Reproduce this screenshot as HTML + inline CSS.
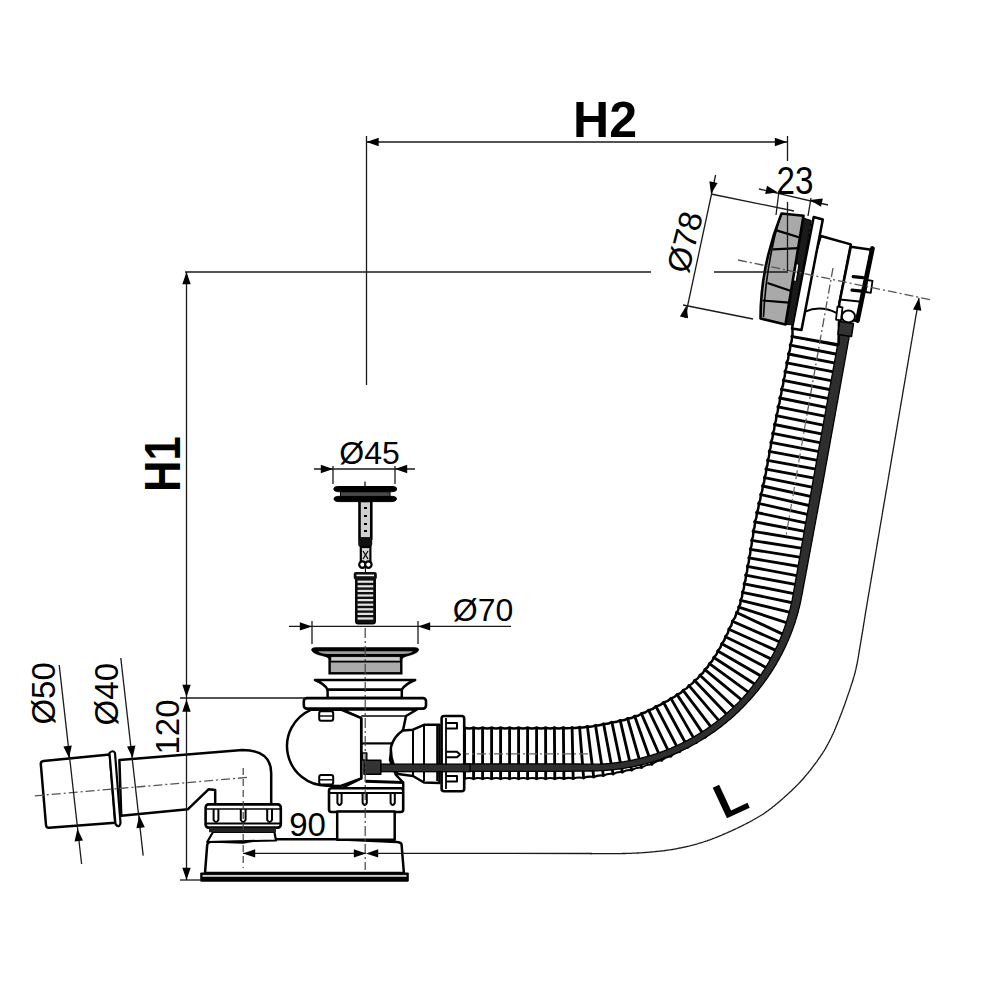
<!DOCTYPE html>
<html><head><meta charset="utf-8"><style>
html,body{margin:0;padding:0;background:#fff;}
svg{display:block;}
text{font-family:"Liberation Sans",sans-serif;}
</style></head><body>
<svg width="1000" height="1000" viewBox="0 0 1000 1000">
<rect width="1000" height="1000" fill="#fff"/>
<path d="M819.2,330.8 L819.1,331.3 L819.0,331.8 L818.9,332.3 L818.9,332.8 L818.8,333.3 L818.7,333.8 L818.6,334.3 L818.5,334.8 L818.4,335.2 L818.3,335.7 L818.2,336.2 L818.1,336.7 L818.0,337.2 L817.9,337.7 L817.8,338.2 L817.7,338.7 L817.6,339.2 L817.5,339.7 L817.4,340.2 L817.3,340.6 L817.2,341.1 L817.1,341.6 L817.0,342.1 L816.9,342.6 L816.8,343.1 L816.7,343.6 L816.7,344.1 L816.6,344.6 L816.5,345.1 L816.4,345.6 L816.3,346.0 L816.2,346.5 L816.1,347.0 L816.0,347.5 L815.9,348.0 L815.8,348.5 L815.7,349.0 L815.6,349.5 L815.5,350.0 L815.4,350.5 L815.3,350.9 L815.2,351.4 L815.1,351.9 L815.0,352.4 L814.9,352.9 L814.8,353.4 L814.7,353.9 L814.6,354.4 L814.5,354.9 L814.5,355.4 L814.4,355.9 L814.3,356.3 L814.2,356.8 L814.1,357.3 L814.0,357.8 L813.9,358.3 L813.8,358.8 L813.7,359.3 L813.6,359.8 L813.5,360.3 L813.4,360.8 L813.3,361.3 L813.2,361.7 L813.1,362.2 L813.0,362.7 L812.9,363.2 L812.8,363.7 L812.7,364.2 L812.6,364.7 L812.5,365.2 L812.4,365.7 L812.3,366.2 L812.3,366.7 L812.2,367.1 L812.1,367.6 L812.0,368.1 L811.9,368.6 L811.8,369.1 L811.7,369.6 L811.6,370.1 L811.5,370.6 L811.4,371.1 L811.3,371.6 L811.2,372.1 L811.1,372.5 L811.0,373.0 L810.9,373.5 L810.8,374.0 L810.7,374.5 L810.6,375.0 L810.5,375.5 L810.4,376.0 L810.3,376.5 L810.2,377.0 L810.1,377.5 L810.0,377.9 L810.0,378.4 L809.9,378.9 L809.8,379.4 L809.7,379.9 L809.6,380.4 L809.5,380.9 L809.4,381.4 L809.3,381.9 L809.2,382.4 L809.1,382.8 L809.0,383.3 L808.9,383.8 L808.8,384.3 L808.7,384.8 L808.6,385.3 L808.5,385.8 L808.4,386.3 L808.3,386.8 L808.2,387.3 L808.1,387.8 L808.0,388.2 L807.9,388.7 L807.8,389.2 L807.7,389.7 L807.6,390.2 L807.5,390.7 L807.5,391.2 L807.4,391.7 L807.3,392.2 L807.2,392.7 L807.1,393.2 L807.0,393.6 L806.9,394.1 L806.8,394.6 L806.7,395.1 L806.6,395.6 L806.5,396.1 L806.4,396.6 L806.3,397.1 L806.2,397.6 L806.1,398.1 L806.0,398.5 L805.9,399.0 L805.8,399.5 L805.7,400.0 L805.6,400.5 L805.5,401.0 L805.4,401.5 L805.3,402.0 L805.2,402.5 L805.1,403.0 L805.0,403.5 L804.9,403.9 L804.8,404.4 L804.7,404.9 L804.6,405.4 L804.5,405.9 L804.4,406.4 L804.3,406.9 L804.2,407.4 L804.1,407.9 L804.0,408.4 L803.9,408.8 L803.8,409.3 L803.7,409.8 L803.6,410.3 L803.5,410.8 L803.4,411.3 L803.3,411.8 L803.2,412.3 L803.2,412.8 L803.1,413.3 L803.0,413.7 L802.9,414.2 L802.8,414.7 L802.7,415.2 L802.6,415.7 L802.5,416.2 L802.4,416.7 L802.3,417.2 L802.2,417.7 L802.1,418.2 L802.0,418.6 L801.9,419.1 L801.8,419.6 L801.7,420.1 L801.6,420.6 L801.5,421.1 L801.4,421.6 L801.3,422.1 L801.2,422.6 L801.1,423.1 L801.0,423.5 L800.9,424.0 L800.8,424.5 L800.7,425.0 L800.6,425.5 L800.5,426.0 L800.4,426.5 L800.3,427.0 L800.2,427.5 L800.1,428.0 L800.0,428.4 L799.9,428.9 L799.8,429.4 L799.7,429.9 L799.6,430.4 L799.5,430.9 L799.4,431.4 L799.3,431.9 L799.2,432.4 L799.1,432.9 L799.0,433.4 L798.9,433.8 L798.8,434.3 L798.7,434.8 L798.6,435.3 L798.5,435.8 L798.4,436.3 L798.3,436.8 L798.2,437.3 L798.1,437.8 L798.0,438.3 L797.9,438.7 L797.8,439.2 L797.7,439.7 L797.6,440.2 L797.5,440.7 L797.4,441.2 L797.3,441.7 L797.3,442.2 L797.2,442.7 L797.1,443.2 L797.0,443.7 L796.9,444.1 L796.8,444.6 L796.7,445.1 L796.6,445.6 L796.5,446.1 L796.4,446.6 L796.3,447.1 L796.2,447.6 L796.1,448.1 L796.0,448.6 L795.9,449.1 L795.8,449.5 L795.7,450.0 L795.6,450.5 L795.6,451.0 L795.5,451.5 L795.4,452.0 L795.3,452.5 L795.2,453.0 L795.1,453.5 L795.0,454.0 L794.9,454.5 L794.8,454.9 L794.7,455.4 L794.6,455.9 L794.5,456.4 L794.5,456.9 L794.4,457.4 L794.3,457.9 L794.2,458.4 L794.1,458.9 L794.0,459.4 L793.9,459.9 L793.8,460.4 L793.7,460.9 L793.7,461.3 L793.6,461.8 L793.5,462.3 L793.4,462.8 L793.3,463.3 L793.2,463.8 L793.1,464.3 L793.0,464.8 L792.9,465.3 L792.8,465.8 L792.8,466.3 L792.7,466.8 L792.6,467.2 L792.5,467.7 L792.4,468.2 L792.3,468.7 L792.2,469.2 L792.1,469.7 L792.0,470.2 L791.9,470.7 L791.9,471.2 L791.8,471.7 L791.7,472.2 L791.6,472.7 L791.5,473.1 L791.4,473.6 L791.3,474.1 L791.2,474.6 L791.1,475.1 L791.0,475.6 L790.9,476.1 L790.8,476.6 L790.8,477.1 L790.7,477.6 L790.6,478.1 L790.5,478.6 L790.4,479.0 L790.3,479.5 L790.2,480.0 L790.1,480.5 L790.0,481.0 L789.9,481.5 L789.8,482.0 L789.7,482.5 L789.6,483.0 L789.5,483.5 L789.4,483.9 L789.3,484.4 L789.2,484.9 L789.1,485.4 L789.0,485.9 L788.9,486.4 L788.8,486.9 L788.7,487.4 L788.6,487.9 L788.5,488.4 L788.4,488.8 L788.3,489.3 L788.2,489.8 L788.1,490.3 L788.0,490.8 L787.9,491.3 L787.8,491.8 L787.7,492.3 L787.6,492.8 L787.5,493.2 L787.3,493.7 L787.2,494.2 L787.1,494.7 L787.0,495.2 L786.9,495.7 L786.8,496.2 L786.7,496.7 L786.6,497.2 L786.5,497.6 L786.4,498.1 L786.3,498.6 L786.2,499.1 L786.0,499.6 L785.9,500.1 L785.8,500.6 L785.7,501.1 L785.6,501.5 L785.5,502.0 L785.4,502.5 L785.3,503.0 L785.2,503.5 L785.1,504.0 L784.9,504.5 L784.8,505.0 L784.7,505.4 L784.6,505.9 L784.5,506.4 L784.4,506.9 L784.3,507.4 L784.2,507.9 L784.1,508.4 L784.0,508.9 L783.8,509.3 L783.7,509.8 L783.6,510.3 L783.5,510.8 L783.4,511.3 L783.3,511.8 L783.2,512.3 L783.1,512.8 L783.0,513.2 L782.9,513.7 L782.8,514.2 L782.6,514.7 L782.5,515.2 L782.4,515.7 L782.3,516.2 L782.2,516.7 L782.1,517.2 L782.0,517.6 L781.9,518.1 L781.8,518.6 L781.7,519.1 L781.6,519.6 L781.5,520.1 L781.4,520.6 L781.3,521.1 L781.2,521.6 L781.1,522.0 L781.0,522.5 L780.9,523.0 L780.8,523.5 L780.7,524.0 L780.6,524.5 L780.5,525.0 L780.4,525.5 L780.3,526.0 L780.2,526.5 L780.1,527.0 L780.0,527.4 L779.9,527.9 L779.8,528.4 L779.7,528.9 L779.7,529.4 L779.6,529.9 L779.5,530.4 L779.4,530.9 L779.3,531.4 L779.2,531.9 L779.1,532.4 L779.0,532.9 L779.0,533.3 L778.9,533.8 L778.8,534.3 L778.7,534.8 L778.6,535.3 L778.5,535.8 L778.4,536.3 L778.4,536.8 L778.3,537.3 L778.2,537.8 L778.1,538.3 L778.0,538.8 L778.0,539.3 L777.9,539.8 L777.8,540.3 L777.7,540.7 L777.6,541.2 L777.6,541.7 L777.5,542.2 L777.4,542.7 L777.3,543.2 L777.3,543.7 L777.2,544.2 L777.1,544.7 L777.0,545.2 L776.9,545.7 L776.9,546.2 L776.8,546.7 L776.7,547.2 L776.6,547.7 L776.6,548.2 L776.5,548.6 L776.4,549.1 L776.3,549.6 L776.2,550.1 L776.2,550.6 L776.1,551.1 L776.0,551.6 L775.9,552.1 L775.9,552.6 L775.8,553.1 L775.7,553.6 L775.6,554.1 L775.5,554.6 L775.5,555.1 L775.4,555.6 L775.3,556.1 L775.2,556.6 L775.2,557.0 L775.1,557.5 L775.0,558.0 L774.9,558.5 L774.8,559.0 L774.8,559.5 L774.7,560.0 L774.6,560.5 L774.5,561.0 L774.4,561.5 L774.3,562.0 L774.3,562.5 L774.2,563.0 L774.1,563.5 L774.0,564.0 L773.9,564.4 L773.8,564.9 L773.7,565.4 L773.7,565.9 L773.6,566.4 L773.5,566.9 L773.4,567.4 L773.3,567.9 L773.2,568.4 L773.1,568.9 L773.0,569.4 L772.9,569.9 L772.9,570.3 L772.8,570.8 L772.7,571.3 L772.6,571.8 L772.5,572.3 L772.4,572.8 L772.3,573.3 L772.2,573.8 L772.1,574.3 L772.0,574.8 L771.9,575.3 L771.9,575.8 L771.8,576.2 L771.7,576.7 L771.6,577.2 L771.5,577.7 L771.4,578.2 L771.3,578.7 L771.2,579.2 L771.1,579.7 L771.0,580.2 L770.9,580.7 L770.9,581.2 L770.8,581.7 L770.7,582.1 L770.6,582.6 L770.5,583.1 L770.4,583.6 L770.3,584.1 L770.2,584.6 L770.1,585.1 L770.0,585.6 L769.9,586.1 L769.8,586.6 L769.7,587.1 L769.6,587.5 L769.5,588.0 L769.4,588.5 L769.3,589.0 L769.3,589.5 L769.2,590.0 L769.1,590.5 L769.0,591.0 L768.9,591.5 L768.8,592.0 L768.7,592.5 L768.6,592.9 L768.5,593.4 L768.4,593.9 L768.3,594.4 L768.2,594.9 L768.1,595.4 L768.0,595.9 L767.9,596.4 L767.8,596.9 L767.7,597.4 L767.6,597.8 L767.5,598.3 L767.4,598.8 L767.2,599.3 L767.1,599.8 L767.0,600.3 L766.9,600.8 L766.8,601.3 L766.7,601.8 L766.6,602.2 L766.5,602.7 L766.4,603.2 L766.3,603.7 L766.2,604.2 L766.0,604.7 L765.9,605.2 L765.8,605.6 L765.7,606.1 L765.6,606.6 L765.5,607.1 L765.3,607.6 L765.2,608.1 L765.1,608.6 L765.0,609.0 L764.8,609.5 L764.7,610.0 L764.6,610.5 L764.4,611.0 L764.3,611.5 L764.2,611.9 L764.0,612.4 L763.9,612.9 L763.7,613.4 L763.6,613.9 L763.5,614.3 L763.3,614.8 L763.1,615.3 L763.0,615.8 L762.8,616.2 L762.7,616.7 L762.5,617.2 L762.3,617.6 L762.2,618.1 L762.0,618.6 L761.8,619.1 L761.6,619.5 L761.4,620.0 L761.2,620.4 L761.1,620.9 L760.9,621.4 L760.7,621.8 L760.5,622.3 L760.2,622.7 L760.0,623.2 L759.8,623.6 L759.6,624.1 L759.4,624.5 L759.2,625.0 L759.0,625.4 L758.7,625.9 L758.5,626.3 L758.3,626.8 L758.1,627.2 L757.8,627.7 L757.6,628.1 L757.4,628.6 L757.2,629.0 L757.0,629.5 L756.8,629.9 L756.6,630.4 L756.4,630.9 L756.2,631.3 L756.0,631.8 L755.8,632.2 L755.6,632.7 L755.4,633.1 L755.2,633.6 L755.0,634.1 L754.8,634.5 L754.6,635.0 L754.4,635.4 L754.2,635.9 L754.0,636.3 L753.8,636.8 L753.5,637.3 L753.3,637.7 L753.1,638.2 L752.9,638.6 L752.7,639.1 L752.5,639.5 L752.3,640.0 L752.1,640.5 L751.9,640.9 L751.7,641.4 L751.5,641.8 L751.3,642.3 L751.1,642.7 L750.9,643.2 L750.7,643.6 L750.4,644.1 L750.2,644.5 L750.0,645.0 L749.8,645.4 L749.6,645.9 L749.4,646.4 L749.2,646.8 L748.9,647.3 L748.7,647.7 L748.5,648.2 L748.3,648.6 L748.1,649.0 L747.8,649.5 L747.6,649.9 L747.4,650.4 L747.2,650.8 L746.9,651.3 L746.7,651.7 L746.5,652.2 L746.3,652.6 L746.0,653.1 L745.8,653.5 L745.6,653.9 L745.3,654.4 L745.1,654.8 L744.9,655.3 L744.6,655.7 L744.4,656.2 L744.2,656.6 L743.9,657.0 L743.7,657.5 L743.4,657.9 L743.2,658.4 L743.0,658.8 L742.7,659.2 L742.5,659.7 L742.2,660.1 L742.0,660.5 L741.7,661.0 L741.5,661.4 L741.3,661.8 L741.0,662.3 L740.8,662.7 L740.5,663.1 L740.3,663.6 L740.0,664.0 L739.8,664.4 L739.5,664.9 L739.2,665.3 L739.0,665.7 L738.7,666.2 L738.5,666.6 L738.2,667.0 L738.0,667.5 L737.7,667.9 L737.4,668.3 L737.2,668.7 L736.9,669.2 L736.6,669.6 L736.4,670.0 L736.1,670.4 L735.8,670.8 L735.6,671.3 L735.3,671.7 L735.0,672.1 L734.7,672.5 L734.5,672.9 L734.2,673.3 L733.9,673.8 L733.6,674.2 L733.4,674.6 L733.1,675.0 L732.8,675.4 L732.5,675.8 L732.2,676.2 L731.9,676.6 L731.6,677.0 L731.3,677.5 L731.1,677.9 L730.8,678.3 L730.5,678.7 L730.2,679.1 L729.9,679.5 L729.6,679.9 L729.3,680.3 L729.0,680.7 L728.7,681.1 L728.4,681.5 L728.1,681.9 L727.8,682.3 L727.5,682.7 L727.2,683.1 L726.8,683.5 L726.5,683.8 L726.2,684.2 L725.9,684.6 L725.6,685.0 L725.3,685.4 L725.0,685.8 L724.6,686.2 L724.3,686.6 L724.0,686.9 L723.7,687.3 L723.4,687.7 L723.0,688.1 L722.7,688.5 L722.4,688.8 L722.0,689.2 L721.7,689.6 L721.4,690.0 L721.0,690.3 L720.7,690.7 L720.4,691.1 L720.0,691.5 L719.7,691.8 L719.4,692.2 L719.0,692.6 L718.7,692.9 L718.3,693.3 L718.0,693.6 L717.6,694.0 L717.3,694.4 L717.0,694.7 L716.6,695.1 L716.3,695.4 L715.9,695.8 L715.6,696.2 L715.2,696.5 L714.8,696.9 L714.5,697.2 L714.1,697.6 L713.8,697.9 L713.4,698.3 L713.1,698.6 L712.7,698.9 L712.3,699.3 L712.0,699.6 L711.6,700.0 L711.2,700.3 L710.9,700.7 L710.5,701.0 L710.1,701.3 L709.8,701.7 L709.4,702.0 L709.0,702.3 L708.7,702.7 L708.3,703.0 L707.9,703.3 L707.5,703.7 L707.2,704.0 L706.8,704.3 L706.4,704.7 L706.0,705.0 L705.6,705.3 L705.3,705.6 L704.9,706.0 L704.5,706.3 L704.1,706.6 L703.7,706.9 L703.3,707.2 L702.9,707.5 L702.6,707.9 L702.2,708.2 L701.8,708.5 L701.4,708.8 L701.0,709.1 L700.6,709.4 L700.2,709.7 L699.8,710.0 L699.4,710.3 L699.0,710.6 L698.6,710.9 L698.2,711.2 L697.8,711.5 L697.4,711.8 L697.0,712.1 L696.6,712.4 L696.2,712.7 L695.8,713.0 L695.4,713.3 L695.0,713.6 L694.6,713.9 L694.2,714.2 L693.8,714.5 L693.4,714.8 L692.9,715.0 L692.5,715.3 L692.1,715.6 L691.7,715.9 L691.3,716.1 L690.9,716.4 L690.4,716.7 L690.0,717.0 L689.6,717.2 L689.2,717.5 L688.8,717.8 L688.3,718.0 L687.9,718.3 L687.5,718.6 L687.1,718.8 L686.6,719.1 L686.2,719.3 L685.8,719.6 L685.3,719.8 L684.9,720.1 L684.5,720.4 L684.0,720.6 L683.6,720.9 L683.2,721.1 L682.7,721.3 L682.3,721.6 L681.9,721.8 L681.4,722.1 L681.0,722.3 L680.6,722.6 L680.1,722.8 L679.7,723.1 L679.2,723.3 L678.8,723.5 L678.4,723.8 L677.9,724.0 L677.5,724.3 L677.1,724.5 L676.6,724.7 L676.2,725.0 L675.7,725.2 L675.3,725.4 L674.9,725.7 L674.4,725.9 L674.0,726.2 L673.5,726.4 L673.1,726.6 L672.7,726.9 L672.2,727.1 L671.8,727.3 L671.3,727.6 L670.9,727.8 L670.4,728.0 L670.0,728.3 L669.6,728.5 L669.1,728.7 L668.7,729.0 L668.2,729.2 L667.8,729.4 L667.3,729.7 L666.9,729.9 L666.5,730.1 L666.0,730.3 L665.6,730.6 L665.1,730.8 L664.7,731.0 L664.2,731.3 L663.8,731.5 L663.3,731.7 L662.9,731.9 L662.4,732.1 L662.0,732.4 L661.5,732.6 L661.1,732.8 L660.6,733.0 L660.2,733.3 L659.7,733.5 L659.3,733.7 L658.8,733.9 L658.4,734.1 L657.9,734.3 L657.5,734.6 L657.0,734.8 L656.6,735.0 L656.1,735.2 L655.7,735.4 L655.2,735.6 L654.8,735.8 L654.3,736.0 L653.9,736.2 L653.4,736.4 L653.0,736.6 L652.5,736.8 L652.0,737.0 L651.6,737.2 L651.1,737.4 L650.7,737.6 L650.2,737.8 L649.7,738.0 L649.3,738.2 L648.8,738.4 L648.4,738.6 L647.9,738.8 L647.4,739.0 L647.0,739.2 L646.5,739.3 L646.0,739.5 L645.6,739.7 L645.1,739.9 L644.6,740.1 L644.2,740.2 L643.7,740.4 L643.2,740.6 L642.7,740.7 L642.3,740.9 L641.8,741.1 L641.3,741.2 L640.9,741.4 L640.4,741.5 L639.9,741.7 L639.4,741.9 L638.9,742.0 L638.5,742.2 L638.0,742.3 L637.5,742.5 L637.0,742.6 L636.6,742.7 L636.1,742.9 L635.6,743.0 L635.1,743.2 L634.6,743.3 L634.2,743.4 L633.7,743.6 L633.2,743.7 L632.7,743.8 L632.2,744.0 L631.7,744.1 L631.3,744.2 L630.8,744.3 L630.3,744.5 L629.8,744.6 L629.3,744.7 L628.8,744.8 L628.4,745.0 L627.9,745.1 L627.4,745.2 L626.9,745.3 L626.4,745.4 L625.9,745.5 L625.4,745.6 L624.9,745.8 L624.5,745.9 L624.0,746.0 L623.5,746.1 L623.0,746.2 L622.5,746.3 L622.0,746.4 L621.5,746.5 L621.0,746.6 L620.6,746.7 L620.1,746.8 L619.6,746.9 L619.1,747.0 L618.6,747.1 L618.1,747.2 L617.6,747.3 L617.1,747.4 L616.6,747.6 L616.2,747.7 L615.7,747.8 L615.2,747.9 L614.7,748.0 L614.2,748.1 L613.7,748.2 L613.2,748.3 L612.7,748.4 L612.2,748.5 L611.7,748.6 L611.3,748.7 L610.8,748.8 L610.3,748.9 L609.8,749.0 L609.3,749.0 L608.8,749.1 L608.3,749.2 L607.8,749.3 L607.3,749.4 L606.8,749.5 L606.3,749.6 L605.8,749.7 L605.4,749.8 L604.9,749.9 L604.4,749.9 L603.9,750.0 L603.4,750.1 L602.9,750.2 L602.4,750.3 L601.9,750.4 L601.4,750.4 L600.9,750.5 L600.4,750.6 L599.9,750.7 L599.4,750.8 L598.9,750.8 L598.5,750.9 L598.0,751.0 L597.5,751.1 L597.0,751.1 L596.5,751.2 L596.0,751.3 L595.5,751.3 L595.0,751.4 L594.5,751.5 L594.0,751.6 L593.5,751.6 L593.0,751.7 L592.5,751.8 L592.0,751.8 L591.5,751.9 L591.0,751.9 L590.5,752.0 L590.0,752.1 L589.5,752.1 L589.0,752.2 L588.5,752.2 L588.0,752.3 L587.5,752.4 L587.0,752.4 L586.6,752.5 L586.1,752.5 L585.6,752.6 L585.1,752.6 L584.6,752.7 L584.1,752.7 L583.6,752.8 L583.1,752.8 L582.6,752.8 L582.1,752.9 L581.6,752.9 L581.1,753.0 L580.6,753.0 L580.1,753.0 L579.6,753.1 L579.1,753.1 L578.6,753.1 L578.1,753.2 L577.6,753.2 L577.1,753.2 L576.6,753.2 L576.1,753.3 L575.6,753.3 L575.1,753.3 L574.6,753.3 L574.1,753.3 L573.6,753.3 L573.1,753.4 L572.6,753.4 L572.1,753.4 L571.6,753.4 L571.1,753.4 L570.6,753.4 L570.1,753.4 L569.6,753.4 L569.1,753.4 L568.6,753.4 L568.1,753.4 L567.6,753.4 L567.1,753.4 L566.6,753.4 L566.1,753.4 L565.6,753.4 L565.1,753.4 L564.6,753.5 L564.1,753.5 L563.6,753.5 L563.1,753.5 L562.6,753.5 L562.1,753.5 L561.6,753.5 L561.1,753.5 L560.6,753.5 L560.1,753.5 L559.6,753.5 L559.1,753.5 L558.6,753.5 L558.1,753.5 L557.6,753.5 L557.1,753.5 L556.6,753.5 L556.1,753.5 L555.6,753.6 L555.1,753.6 L554.6,753.6 L554.1,753.6 L553.6,753.6 L553.1,753.6 L552.6,753.6 L552.1,753.6 L551.6,753.6 L551.1,753.6 L550.6,753.6 L550.1,753.6 L549.6,753.6 L549.1,753.6 L548.6,753.6 L548.1,753.6 L547.6,753.6 L547.1,753.6 L546.6,753.6 L546.1,753.6 L545.6,753.6 L545.1,753.6 L544.6,753.6 L544.1,753.6 L543.6,753.6 L543.1,753.6 L542.6,753.6 L542.1,753.6 L541.6,753.6 L541.1,753.6 L540.6,753.6 L540.1,753.6 L539.6,753.6 L539.1,753.6 L538.6,753.6 L538.1,753.6 L537.6,753.6 L537.1,753.6 L536.6,753.6 L536.1,753.6 L535.6,753.6 L535.1,753.6 L534.6,753.6 L534.1,753.6 L533.6,753.6 L533.1,753.6 L532.6,753.6 L532.1,753.6 L531.6,753.6 L531.1,753.6 L530.6,753.6 L530.1,753.6 L529.6,753.6 L529.1,753.6 L528.6,753.6 L528.1,753.6 L527.6,753.6 L527.1,753.6 L526.6,753.6 L526.1,753.6 L525.6,753.6 L525.1,753.6 L524.6,753.6 L524.1,753.6 L523.6,753.6 L523.1,753.6 L522.6,753.6 L522.1,753.6 L521.6,753.6 L521.1,753.6 L520.6,753.6 L520.1,753.6 L519.6,753.6 L519.1,753.6 L518.6,753.6 L518.1,753.6 L517.6,753.6 L517.1,753.6 L516.6,753.6 L516.1,753.6 L515.6,753.6 L515.1,753.6 L514.6,753.6 L514.1,753.6 L513.6,753.6 L513.1,753.6 L512.6,753.6 L512.1,753.6 L511.6,753.6 L511.1,753.6 L510.6,753.6 L510.1,753.6 L509.6,753.6 L509.1,753.6 L508.6,753.6 L508.1,753.6 L507.6,753.6 L507.1,753.6 L506.6,753.6 L506.1,753.6 L505.6,753.6 L505.1,753.6 L504.6,753.6 L504.1,753.6 L503.6,753.6 L503.1,753.6 L502.6,753.6 L502.1,753.6 L501.6,753.6 L501.1,753.6 L500.6,753.6 L500.1,753.6 L499.6,753.6 L499.1,753.6 L498.6,753.6 L498.1,753.6 L497.6,753.6 L497.1,753.6 L496.6,753.6 L496.1,753.6 L495.6,753.6 L495.1,753.6 L494.6,753.6 L494.1,753.6 L493.6,753.6 L493.1,753.6 L492.6,753.6 L492.1,753.6 L491.6,753.6 L491.1,753.6 L490.6,753.6 L490.1,753.6 L489.6,753.6 L489.1,753.6 L488.6,753.6 L488.1,753.6 L487.6,753.6 L487.1,753.6 L486.6,753.6 L486.1,753.6 L485.6,753.6 L485.1,753.6 L484.6,753.6 L484.1,753.6 L483.6,753.6 L483.1,753.6 L482.6,753.6 L482.1,753.6 L481.6,753.6 L481.1,753.6 L480.6,753.6 L480.1,753.6 L479.6,753.6 L479.1,753.6 L478.6,753.6 L478.1,753.6 L477.6,753.6 L477.1,753.6 L476.6,753.6 L476.1,753.6 L475.6,753.6 L475.1,753.6 L474.6,753.6 L474.1,753.6 L473.6,753.6 L473.1,753.6 L472.6,753.6 L472.1,753.6 L471.6,753.6 L471.1,753.6 L470.6,753.6 L470.1,753.6 L469.6,753.6 L469.1,753.6 L468.6,753.6 L468.1,753.6 L467.6,753.6 L467.1,753.6 L466.6,753.6 L466.1,753.6 L465.6,753.6 L465.1,753.6 L464.6,753.6 L464.1,753.6 L463.6,753.6 L463.1,753.6 L462.6,753.6" fill="none" stroke="#fff" stroke-width="50.4"/>
<path d="M791.9,336.3 L842.4,346.1 M790.2,345.1 L840.8,355.0 M788.4,354.0 L839.2,363.9 M786.7,362.8 L837.6,372.7 M785.0,371.6 L836.0,381.6 M783.3,380.4 L834.4,390.5 M781.5,389.3 L832.8,399.4 M779.8,398.0 L831.2,408.3 M778.0,406.8 L829.6,417.2 M776.3,415.6 L828.0,426.1 M774.5,424.5 L826.4,434.9 M772.7,433.4 L824.8,443.7 M770.9,442.4 L823.3,452.4 M769.2,451.4 L821.7,461.1 M767.6,460.3 L820.1,469.9 M766.0,469.1 L818.5,478.9 M764.4,477.6 L816.8,488.1 M762.6,486.0 L815.1,497.4 M760.7,494.6 L813.5,506.5 M758.7,503.4 L811.9,515.4 M756.7,512.5 L810.3,523.9 M754.8,521.8 L808.8,532.2 M753.1,531.3 L807.4,540.4 M751.7,540.4 L805.8,548.9 M750.3,549.3 L804.2,557.8 M748.9,557.9 L802.6,567.0 M747.3,566.4 L800.9,576.3 M745.7,575.2 L799.3,585.2 M744.1,583.8 L797.6,594.3 M742.4,592.3 L795.8,603.5 M740.6,600.3 L793.4,613.2 M738.7,607.1 L790.1,623.9 M736.6,612.5 L785.8,635.6 M732.4,621.3 L782.6,643.2 M728.9,629.2 L778.6,651.6 M725.4,636.7 L774.0,660.4 M721.7,643.8 L768.9,669.0 M717.8,650.9 L763.4,677.4 M713.8,657.5 L757.3,685.7 M709.4,663.7 L750.7,693.9 M704.9,669.6 L743.7,701.7 M700.0,675.2 L736.2,709.2 M694.6,680.5 L729.8,717.4 M689.0,685.6 L722.1,724.4 M683.1,690.3 L714.0,730.9 M677.1,694.6 L705.3,737.1 M670.9,698.4 L696.3,742.6 M663.6,702.5 L687.8,747.3 M656.0,706.5 L679.5,751.7 M648.6,710.2 L670.9,756.1 M641.4,713.6 L661.7,760.3 M634.7,716.2 L651.8,764.3 M627.6,718.5 L641.6,767.5 M620.2,720.4 L631.7,770.1 M611.9,722.2 L622.4,772.1 M603.6,723.9 L613.1,774.0 M595.5,725.3 L603.4,775.6 M587.4,726.4 L593.7,777.0 M579.6,727.2 L583.6,778.0 M572.1,727.6 L573.2,778.6 M563.4,727.7 L563.9,778.7 M554.4,727.8 L554.8,778.8 M545.6,727.8 L545.7,778.8 M536.6,727.8 L536.6,778.8 M527.6,727.8 L527.6,778.8 M518.6,727.8 L518.6,778.8 M509.6,727.8 L509.6,778.8 M500.6,727.8 L500.6,778.8 M491.6,727.8 L491.6,778.8 M482.6,727.8 L482.6,778.8 M473.6,727.8 L473.6,778.8 M464.6,727.8 L464.6,778.8" stroke="#000" stroke-width="2.85" fill="none" stroke-linecap="round"/>
<path d="M791.9,336.3 Q792.4,341.0 790.2,345.1 Q790.7,349.8 788.4,354.0 Q789.0,358.6 786.7,362.8 Q787.2,367.5 785.0,371.6 Q785.5,376.3 783.3,380.4 Q783.8,385.1 781.5,389.3 Q782.0,393.9 779.8,398.0 Q780.3,402.7 778.0,406.8 Q778.5,411.5 776.3,415.6 Q776.7,420.3 774.5,424.5 Q774.9,429.2 772.7,433.4 Q773.2,438.2 770.9,442.4 Q771.5,447.2 769.2,451.4 Q769.8,456.1 767.6,460.3 Q768.2,465.0 766.0,469.1 Q766.6,473.6 764.4,477.6 Q764.9,482.1 762.6,486.0 Q763.0,490.6 760.7,494.6 Q761.1,499.3 758.7,503.4 Q759.1,508.2 756.7,512.5 Q757.2,517.4 754.8,521.8 Q755.4,526.8 753.1,531.3 Q753.8,536.1 751.7,540.4 Q752.3,545.1 750.3,549.3 Q750.9,553.8 748.9,557.9 Q749.5,562.4 747.3,566.4 Q747.9,571.1 745.7,575.2 Q746.3,579.8 744.1,583.8 Q744.6,588.3 742.4,592.3 Q742.8,596.6 740.6,600.3 Q741.0,604.1 738.7,607.1 Q738.9,610.3 736.6,612.5 Q735.8,617.4 732.4,621.3 Q731.9,625.8 728.9,629.2 Q728.4,633.5 725.4,636.7 Q724.8,640.9 721.7,643.8 Q721.0,648.0 717.8,650.9 Q717.0,654.9 713.8,657.5 Q712.8,661.4 709.4,663.7 Q708.3,667.5 704.9,669.6 Q703.5,673.3 700.0,675.2 Q698.3,678.8 694.6,680.5 Q692.8,684.1 689.0,685.6 Q687.0,689.0 683.1,690.3 Q681.0,693.6 677.1,694.6 Q674.7,697.7 670.9,698.4 Q667.9,701.7 663.6,702.5 Q660.4,705.7 656.0,706.5 Q652.9,709.6 648.6,710.2 Q645.5,713.2 641.4,713.6 Q638.5,716.2 634.7,716.2 Q631.6,718.7 627.6,718.5 Q624.3,720.8 620.2,720.4 Q616.3,722.7 611.9,722.2 Q608.0,724.4 603.6,723.9 Q599.8,725.9 595.5,725.3 Q591.6,727.2 587.4,726.4 Q583.6,728.2 579.6,727.2 Q575.9,728.8 572.1,727.6 Q567.7,729.0 563.4,727.7 Q558.9,729.1 554.4,727.8 Q550.0,729.2 545.6,727.8 Q541.1,729.2 536.6,727.8 Q532.1,729.2 527.6,727.8 Q523.1,729.2 518.6,727.8 Q514.1,729.2 509.6,727.8 Q505.1,729.2 500.6,727.8 Q496.1,729.2 491.6,727.8 Q487.1,729.2 482.6,727.8 Q478.1,729.2 473.6,727.8 Q469.1,729.2 464.6,727.8" stroke="#000" stroke-width="2.5" fill="none"/>
<path d="M729.8,717.4 Q724.9,719.7 722.1,724.4 Q717.0,726.4 714.0,730.9 Q708.7,732.7 705.3,737.1 Q700.0,738.5 696.3,742.6 Q691.3,743.6 687.8,747.3 Q682.9,748.1 679.5,751.7 Q674.5,752.5 670.9,756.1 Q665.6,756.7 661.7,760.3 Q656.2,760.8 651.8,764.3 Q646.2,764.4 641.6,767.5 Q636.3,767.2 631.7,770.1 Q626.7,769.5 622.4,772.1 Q617.4,771.5 613.1,774.0 Q608.0,773.2 603.4,775.6 Q598.3,774.7 593.7,777.0 Q588.5,775.9 583.6,778.0 Q578.3,776.7 573.2,778.6 Q568.5,777.0 563.9,778.7 Q559.3,777.1 554.8,778.8 Q550.2,777.2 545.7,778.8 Q541.1,777.2 536.6,778.8 Q532.1,777.2 527.6,778.8 Q523.1,777.2 518.6,778.8 Q514.1,777.2 509.6,778.8 Q505.1,777.2 500.6,778.8 Q496.1,777.2 491.6,778.8 Q487.1,777.2 482.6,778.8 Q478.1,777.2 473.6,778.8 Q469.1,777.2 464.6,778.8" stroke="#000" stroke-width="2.1" fill="none"/>
<path d="M806,420 L786,536" stroke="#666" stroke-width="1.2" stroke-dasharray="9,3,2,3" fill="none"/>
<path d="M375,753.8 L590,753.8" stroke="#666" stroke-width="1.2" stroke-dasharray="9,3,2,3" fill="none"/>
<path d="M840.1,331.1 L839.9,332.1 L839.7,333.1 L839.5,334.1 L839.4,335.0 L839.2,336.0 L839.0,337.0 L838.8,338.0 L838.7,339.0 L838.5,340.0 L838.3,341.0 L838.1,341.9 L837.9,342.9 L837.8,343.9 L837.6,344.9 L837.4,345.9 L837.2,346.9 L837.1,347.8 L836.9,348.8 L836.7,349.8 L836.5,350.8 L836.3,351.8 L836.2,352.8 L836.0,353.7 L835.8,354.7 L835.6,355.7 L835.5,356.7 L835.3,357.7 L835.1,358.7 L834.9,359.6 L834.7,360.6 L834.6,361.6 L834.4,362.6 L834.2,363.6 L834.0,364.6 L833.9,365.6 L833.7,366.5 L833.5,367.5 L833.3,368.5 L833.1,369.5 L833.0,370.5 L832.8,371.5 L832.6,372.4 L832.4,373.4 L832.3,374.4 L832.1,375.4 L831.9,376.4 L831.7,377.4 L831.5,378.3 L831.4,379.3 L831.2,380.3 L831.0,381.3 L830.8,382.3 L830.7,383.3 L830.5,384.3 L830.3,385.2 L830.1,386.2 L829.9,387.2 L829.8,388.2 L829.6,389.2 L829.4,390.2 L829.2,391.1 L829.1,392.1 L828.9,393.1 L828.7,394.1 L828.5,395.1 L828.3,396.1 L828.2,397.0 L828.0,398.0 L827.8,399.0 L827.6,400.0 L827.5,401.0 L827.3,402.0 L827.1,402.9 L826.9,403.9 L826.7,404.9 L826.6,405.9 L826.4,406.9 L826.2,407.9 L826.0,408.9 L825.9,409.8 L825.7,410.8 L825.5,411.8 L825.3,412.8 L825.2,413.8 L825.0,414.8 L824.8,415.7 L824.6,416.7 L824.4,417.7 L824.3,418.7 L824.1,419.7 L823.9,420.7 L823.7,421.6 L823.6,422.6 L823.4,423.6 L823.2,424.6 L823.0,425.6 L822.8,426.6 L822.7,427.6 L822.5,428.5 L822.3,429.5 L822.1,430.5 L822.0,431.5 L821.8,432.5 L821.6,433.5 L821.4,434.4 L821.2,435.4 L821.1,436.4 L820.9,437.4 L820.7,438.4 L820.5,439.4 L820.4,440.3 L820.2,441.3 L820.0,442.3 L819.8,443.3 L819.6,444.3 L819.5,445.3 L819.3,446.2 L819.1,447.2 L818.9,448.2 L818.8,449.2 L818.6,450.2 L818.4,451.2 L818.2,452.2 L818.0,453.1 L817.9,454.1 L817.7,455.1 L817.5,456.1 L817.3,457.1 L817.2,458.1 L817.0,459.0 L816.8,460.0 L816.6,461.0 L816.4,462.0 L816.3,463.0 L816.1,464.0 L815.9,464.9 L815.7,465.9 L815.6,466.9 L815.4,467.9 L815.2,468.9 L815.0,469.9 L814.8,470.9 L814.7,471.8 L814.5,472.8 L814.3,473.8 L814.1,474.8 L814.0,475.8 L813.8,476.8 L813.6,477.7 L813.4,478.7 L813.2,479.7 L813.1,480.7 L812.9,481.7 L812.7,482.7 L812.6,483.6 L812.4,484.6 L812.2,485.6 L812.0,486.6 L811.9,487.6 L811.7,488.6 L811.5,489.6 L811.4,490.5 L811.2,491.5 L811.0,492.5 L810.8,493.5 L810.7,494.5 L810.5,495.5 L810.3,496.5 L810.1,497.4 L810.0,498.4 L809.8,499.4 L809.6,500.4 L809.5,501.4 L809.3,502.4 L809.1,503.3 L808.9,504.3 L808.8,505.3 L808.6,506.3 L808.4,507.3 L808.3,508.3 L808.1,509.3 L807.9,510.2 L807.7,511.2 L807.6,512.2 L807.4,513.2 L807.2,514.2 L807.0,515.2 L806.9,516.2 L806.7,517.1 L806.5,518.1 L806.4,519.1 L806.2,520.1 L806.0,521.1 L805.8,522.1 L805.7,523.1 L805.5,524.0 L805.3,525.0 L805.2,526.0 L805.0,527.0 L804.8,528.0 L804.6,529.0 L804.5,529.9 L804.3,530.9 L804.1,531.9 L803.9,532.9 L803.8,533.9 L803.6,534.9 L803.4,535.9 L803.3,536.8 L803.1,537.8 L802.9,538.8 L802.7,539.8 L802.6,540.8 L802.4,541.8 L802.2,542.8 L802.1,543.7 L801.9,544.7 L801.7,545.7 L801.5,546.7 L801.4,547.7 L801.2,548.7 L801.0,549.6 L800.8,550.6 L800.7,551.6 L800.5,552.6 L800.3,553.6 L800.2,554.6 L800.0,555.6 L799.8,556.5 L799.6,557.5 L799.5,558.5 L799.3,559.5 L799.1,560.5 L799.0,561.5 L798.8,562.5 L798.6,563.4 L798.4,564.4 L798.3,565.4 L798.1,566.4 L797.9,567.4 L797.7,568.4 L797.6,569.3 L797.4,570.3 L797.2,571.3 L797.1,572.3 L796.9,573.3 L796.7,574.3 L796.5,575.3 L796.4,576.2 L796.2,577.2 L796.0,578.2 L795.9,579.2 L795.7,580.2 L795.5,581.2 L795.3,582.2 L795.2,583.1 L795.0,584.1 L794.8,585.1 L794.6,586.1 L794.5,587.1 L794.3,588.1 L794.1,589.1 L794.0,590.0 L793.8,591.0 L793.6,592.0 L793.4,593.0 L793.3,594.0 L793.0,595.6 L792.7,597.0 L792.4,598.4 L792.2,599.9 L791.9,601.3 L791.6,602.7 L791.3,604.1 L790.9,605.4 L790.6,606.8 L790.3,608.2 L789.9,609.6 L789.6,611.0 L789.2,612.4 L788.8,613.8 L788.4,615.1 L788.0,616.5 L787.6,617.9 L787.2,619.3 L786.8,620.6 L786.4,622.0 L785.9,623.4 L785.5,624.7 L785.0,626.1 L784.6,627.4 L784.1,628.8 L783.6,630.1 L783.1,631.5 L782.6,632.8 L782.1,634.2 L781.6,635.5 L781.0,636.8 L780.5,638.2 L779.9,639.5 L779.4,640.8 L778.8,642.1 L778.2,643.4 L777.6,644.7 L777.1,646.0 L776.4,647.3 L775.8,648.6 L775.2,649.9 L774.6,651.2 L773.9,652.5 L773.3,653.8 L772.6,655.0 L771.9,656.3 L771.3,657.6 L770.6,658.8 L769.9,660.1 L769.2,661.3 L768.5,662.6 L767.7,663.8 L767.0,665.1 L766.3,666.3 L765.5,667.5 L764.8,668.7 L764.0,670.0 L763.2,671.2 L762.4,672.4 L761.7,673.6 L760.9,674.8 L760.0,675.9 L759.2,677.1 L758.4,678.3 L757.6,679.5 L756.7,680.6 L755.9,681.8 L755.0,683.0 L754.2,684.1 L753.3,685.2 L752.4,686.4 L751.5,687.5 L750.6,688.6 L749.7,689.7 L748.8,690.9 L747.9,692.0 L747.0,693.1 L746.0,694.1 L745.1,695.2 L744.1,696.3 L743.2,697.4 L742.2,698.4 L741.2,699.5 L740.2,700.5 L739.2,701.6 L738.2,702.6 L737.2,703.6 L736.2,704.6 L735.1,705.6 L734.1,706.6 L733.1,707.6 L732.0,708.6 L731.0,709.6 L729.9,710.6 L728.8,711.5 L727.8,712.5 L726.7,713.4 L725.6,714.4 L724.5,715.3 L723.4,716.2 L722.3,717.2 L721.2,718.1 L720.1,719.0 L718.9,719.9 L717.8,720.8 L716.7,721.6 L715.5,722.5 L714.4,723.4 L713.2,724.2 L712.1,725.1 L710.9,725.9 L709.7,726.7 L708.5,727.6 L707.4,728.4 L706.2,729.2 L705.0,730.0 L703.8,730.8 L702.6,731.6 L701.3,732.3 L700.1,733.1 L698.9,733.8 L697.7,734.6 L696.4,735.3 L695.2,736.1 L694.0,736.8 L692.7,737.5 L691.5,738.2 L690.2,738.9 L688.9,739.6 L687.7,740.3 L686.4,740.9 L685.1,741.6 L683.8,742.2 L682.5,742.9 L681.3,743.5 L680.0,744.1 L678.7,744.8 L677.4,745.4 L676.0,746.0 L674.7,746.5 L673.4,747.1 L672.1,747.7 L670.8,748.3 L669.4,748.8 L668.1,749.3 L666.8,749.9 L665.4,750.4 L664.1,750.9 L662.7,751.4 L661.4,751.9 L660.0,752.4 L658.7,752.9 L657.3,753.3 L656.0,753.8 L654.6,754.2 L653.2,754.7 L651.9,755.1 L650.5,755.5 L649.1,755.9 L647.7,756.3 L646.3,756.7 L644.9,757.1 L643.6,757.5 L642.2,757.8 L640.8,758.2 L639.4,758.5 L638.0,758.9 L636.6,759.2 L635.2,759.5 L633.8,759.8 L632.4,760.1 L630.9,760.4 L629.5,760.7 L628.1,760.9 L626.7,761.2 L625.3,761.4 L623.9,761.7 L622.4,761.9 L621.0,762.1 L619.6,762.3 L618.2,762.5 L616.8,762.7 L615.3,762.9 L613.9,763.0 L612.5,763.2 L611.0,763.3 L609.6,763.5 L608.2,763.6 L606.7,763.7 L605.3,763.8 L603.9,763.9 L602.4,764.0 L601.0,764.1 L599.6,764.1 L598.1,764.2 L596.7,764.2 L595.2,764.2 L593.8,764.2 L592.4,764.2 L590.9,764.2 L589.9,764.2 L588.9,764.2 L587.9,764.1 L586.9,764.1 L585.9,764.1 L584.9,764.1 L583.9,764.1 L582.9,764.1 L581.9,764.1 L580.9,764.1 L579.9,764.0 L578.9,764.0 L577.9,764.0 L576.9,764.0 L575.9,764.0 L574.9,764.0 L573.9,764.0 L572.9,764.0 L571.9,763.9 L570.9,763.9 L569.9,763.9 L568.9,763.9 L567.9,763.9 L566.9,763.9 L565.9,763.9 L564.9,763.9 L563.9,763.8 L562.9,763.8 L561.9,763.8 L560.9,763.8 L559.9,763.8 L558.9,763.8 L557.9,763.8 L556.9,763.8 L555.9,763.8 L554.9,763.8 L553.9,763.8 L552.9,763.8 L551.9,763.8 L550.9,763.8 L549.9,763.8 L548.9,763.8 L547.9,763.8 L546.9,763.8 L545.9,763.8 L544.9,763.8 L543.9,763.8 L542.9,763.8 L541.9,763.8 L540.9,763.8 L539.9,763.8 L538.9,763.8 L537.9,763.8 L536.9,763.8 L535.9,763.8 L534.9,763.8 L533.9,763.8 L532.9,763.8 L531.9,763.8 L530.9,763.8 L529.9,763.8 L528.9,763.8 L527.9,763.8 L526.9,763.8 L525.9,763.8 L524.9,763.8 L523.9,763.8 L522.9,763.8 L521.9,763.8 L520.9,763.8 L519.9,763.8 L518.9,763.8 L517.9,763.8 L516.9,763.8 L515.9,763.8 L514.9,763.8 L513.9,763.8 L512.9,763.8 L511.9,763.8 L510.9,763.8 L509.9,763.8 L508.9,763.8 L507.9,763.8 L506.9,763.8 L505.9,763.8 L504.9,763.8 L503.9,763.8 L502.9,763.8 L501.9,763.8 L500.9,763.8 L499.9,763.8 L498.9,763.8 L497.9,763.8 L496.9,763.8 L495.9,763.8 L494.9,763.8 L493.9,763.8 L492.9,763.8 L491.9,763.8 L490.9,763.8 L489.9,763.8 L488.9,763.8 L487.9,763.8 L486.9,763.8 L485.9,763.8 L484.9,763.8 L483.9,763.8 L482.9,763.8 L481.9,763.8 L480.9,763.8 L479.9,763.8 L478.9,763.8 L477.9,763.8 L476.9,763.8 L475.9,763.8 L474.9,763.8 L473.9,763.8 L472.9,763.8 L471.9,763.8 L470.9,763.8 L469.9,763.8 L468.9,763.8 L467.9,763.8 L466.9,763.8 L465.9,763.8 L464.9,763.8 L463.9,763.8 L462.9,763.8 L461.9,763.8 L460.9,763.8 L459.9,763.8 L458.9,763.8 L457.9,763.8 L456.9,763.8 L455.9,763.8 L454.9,763.8 L453.9,763.8 L452.9,763.8 L451.9,763.8 L450.9,763.8 L449.9,763.8 L448.9,763.8 L447.9,763.8 L446.9,763.8 L445.9,763.8 L444.9,763.8 L443.9,763.8 L442.9,763.8 L441.9,763.8 L440.9,763.8 L439.9,763.8 L438.9,763.8 L437.9,763.8 L436.9,763.8 L435.9,763.8 L434.9,763.8 L433.9,763.8 L432.9,763.8 L431.9,763.8 L430.9,763.8 L429.9,763.8 L428.9,763.8 L427.9,763.8 L426.9,763.8 L425.9,763.8 L424.9,763.8 L423.9,763.8 L422.9,763.8 L421.9,763.8 L420.9,763.8 L419.9,763.8 L418.9,763.8 L417.9,763.8 L416.9,763.8 L415.9,763.8 L414.9,763.8 L413.9,763.8 L412.9,763.8 L411.9,763.8 L410.9,763.8 L409.9,763.8 L408.9,763.8 L407.9,763.8 L406.9,763.8 L405.9,763.8 L404.9,763.8 L403.9,763.8 L402.9,763.8 L401.9,763.8 L400.9,763.8 L399.9,763.8 L398.9,763.8 L397.9,763.8 L396.9,763.8 L395.9,763.8 L394.9,763.8 L393.9,763.8 L392.9,763.8 L391.9,763.8 L390.9,763.8 L389.9,763.8 L388.9,763.8 L387.9,763.8 L386.9,763.8 L385.9,763.8 L384.9,763.8 L383.9,763.8 L382.9,763.8 L381.9,763.8 L380.9,763.8 L379.9,763.8 L379.9,771.4 L380.9,771.4 L381.9,771.4 L382.9,771.4 L383.9,771.4 L384.9,771.4 L385.9,771.4 L386.9,771.4 L387.9,771.4 L388.9,771.4 L389.9,771.4 L390.9,771.4 L391.9,771.4 L392.9,771.4 L393.9,771.4 L394.9,771.4 L395.9,771.4 L396.9,771.4 L397.9,771.4 L398.9,771.4 L399.9,771.4 L400.9,771.4 L401.9,771.4 L402.9,771.4 L403.9,771.4 L404.9,771.4 L405.9,771.4 L406.9,771.4 L407.9,771.4 L408.9,771.4 L409.9,771.4 L410.9,771.4 L411.9,771.4 L412.9,771.4 L413.9,771.4 L414.9,771.4 L415.9,771.4 L416.9,771.4 L417.9,771.4 L418.9,771.4 L419.9,771.4 L420.9,771.4 L421.9,771.4 L422.9,771.4 L423.9,771.4 L424.9,771.4 L425.9,771.4 L426.9,771.4 L427.9,771.4 L428.9,771.4 L429.9,771.4 L430.9,771.4 L431.9,771.4 L432.9,771.4 L433.9,771.4 L434.9,771.4 L435.9,771.4 L436.9,771.4 L437.9,771.4 L438.9,771.4 L439.9,771.4 L440.9,771.4 L441.9,771.4 L442.9,771.4 L443.9,771.4 L444.9,771.4 L445.9,771.4 L446.9,771.4 L447.9,771.4 L448.9,771.4 L449.9,771.4 L450.9,771.4 L451.9,771.4 L452.9,771.4 L453.9,771.4 L454.9,771.4 L455.9,771.4 L456.9,771.4 L457.9,771.4 L458.9,771.4 L459.9,771.4 L460.9,771.4 L461.9,771.4 L462.9,771.4 L463.9,771.4 L464.9,771.4 L465.9,771.4 L466.9,771.4 L467.9,771.4 L468.9,771.4 L469.9,771.4 L470.9,771.4 L471.9,771.4 L472.9,771.4 L473.9,771.4 L474.9,771.4 L475.9,771.4 L476.9,771.4 L477.9,771.4 L478.9,771.4 L479.9,771.4 L480.9,771.4 L481.9,771.4 L482.9,771.4 L483.9,771.4 L484.9,771.4 L485.9,771.4 L486.9,771.4 L487.9,771.4 L488.9,771.4 L489.9,771.4 L490.9,771.4 L491.9,771.4 L492.9,771.4 L493.9,771.4 L494.9,771.4 L495.9,771.4 L496.9,771.4 L497.9,771.4 L498.9,771.4 L499.9,771.4 L500.9,771.4 L501.9,771.4 L502.9,771.4 L503.9,771.4 L504.9,771.4 L505.9,771.4 L506.9,771.4 L507.9,771.4 L508.9,771.4 L509.9,771.4 L510.9,771.4 L511.9,771.4 L512.9,771.4 L513.9,771.4 L514.9,771.4 L515.9,771.4 L516.9,771.4 L517.9,771.4 L518.9,771.4 L519.9,771.4 L520.9,771.4 L521.9,771.4 L522.9,771.4 L523.9,771.4 L524.9,771.4 L525.9,771.4 L526.9,771.4 L527.9,771.4 L528.9,771.4 L529.9,771.4 L530.9,771.4 L531.9,771.4 L532.9,771.4 L533.9,771.4 L534.9,771.4 L535.9,771.4 L536.9,771.4 L537.9,771.4 L538.9,771.4 L539.9,771.4 L540.9,771.4 L541.9,771.4 L542.9,771.4 L543.9,771.4 L544.9,771.4 L545.9,771.4 L546.9,771.4 L547.9,771.4 L548.9,771.4 L549.9,771.4 L550.9,771.4 L551.9,771.4 L552.9,771.4 L553.9,771.4 L554.9,771.4 L555.9,771.4 L556.9,771.4 L557.9,771.4 L558.9,771.4 L559.9,771.4 L560.9,771.4 L561.9,771.4 L562.9,771.4 L563.9,771.4 L564.9,771.3 L565.9,771.3 L566.9,771.3 L567.9,771.3 L568.9,771.3 L569.9,771.3 L570.9,771.3 L571.9,771.3 L572.9,771.2 L573.9,771.2 L574.9,771.2 L575.9,771.2 L576.9,771.2 L577.9,771.2 L578.9,771.2 L579.9,771.2 L580.9,771.1 L581.9,771.1 L582.9,771.1 L583.9,771.1 L584.9,771.1 L585.9,771.1 L586.9,771.1 L587.9,771.1 L588.9,771.0 L589.9,771.0 L590.9,771.0 L592.4,771.0 L593.9,771.0 L595.4,770.9 L596.9,770.9 L598.4,770.8 L599.8,770.7 L601.3,770.6 L602.8,770.6 L604.3,770.5 L605.8,770.4 L607.2,770.3 L608.7,770.2 L610.2,770.0 L611.7,769.9 L613.2,769.7 L614.6,769.6 L616.1,769.4 L617.6,769.2 L619.0,769.0 L620.5,768.8 L622.0,768.6 L623.5,768.4 L624.9,768.2 L626.4,767.9 L627.8,767.7 L629.3,767.4 L630.8,767.1 L632.2,766.9 L633.7,766.6 L635.1,766.3 L636.6,766.0 L638.0,765.6 L639.5,765.3 L640.9,765.0 L642.4,764.6 L643.8,764.2 L645.2,763.9 L646.7,763.5 L648.1,763.1 L649.5,762.7 L651.0,762.3 L652.4,761.9 L653.8,761.4 L655.2,761.0 L656.6,760.5 L658.0,760.1 L659.4,759.6 L660.9,759.1 L662.3,758.6 L663.6,758.1 L665.0,757.6 L666.4,757.1 L667.8,756.6 L669.2,756.0 L670.6,755.5 L672.0,754.9 L673.3,754.3 L674.7,753.8 L676.1,753.2 L677.4,752.6 L678.8,752.0 L680.1,751.4 L681.5,750.7 L682.8,750.1 L684.1,749.4 L685.5,748.8 L686.8,748.1 L688.1,747.5 L689.4,746.8 L690.8,746.1 L692.1,745.4 L693.4,744.7 L694.7,744.0 L696.0,743.2 L697.3,742.5 L698.5,741.8 L699.8,741.0 L701.1,740.2 L702.4,739.5 L703.6,738.7 L704.9,737.9 L706.1,737.1 L707.4,736.3 L708.6,735.5 L709.8,734.7 L711.1,733.8 L712.3,733.0 L713.5,732.1 L714.7,731.3 L715.9,730.4 L717.1,729.5 L718.3,728.7 L719.5,727.8 L720.7,726.9 L721.9,726.0 L723.0,725.0 L724.2,724.1 L725.4,723.2 L726.5,722.3 L727.6,721.3 L728.8,720.3 L729.9,719.4 L731.0,718.4 L732.1,717.4 L733.3,716.4 L734.4,715.5 L735.4,714.5 L736.5,713.4 L737.6,712.4 L738.7,711.4 L739.8,710.4 L740.8,709.3 L741.9,708.3 L742.9,707.2 L743.9,706.2 L745.0,705.1 L746.0,704.0 L747.0,702.9 L748.0,701.9 L749.0,700.8 L750.0,699.7 L751.0,698.6 L752.0,697.5 L753.0,696.3 L754.0,695.2 L754.9,694.1 L755.9,692.9 L756.8,691.8 L757.8,690.7 L758.7,689.5 L759.6,688.3 L760.5,687.2 L761.4,686.0 L762.3,684.8 L763.2,683.6 L764.1,682.4 L765.0,681.2 L765.9,680.0 L766.7,678.8 L767.6,677.6 L768.4,676.4 L769.2,675.1 L770.1,673.9 L770.9,672.6 L771.7,671.4 L772.5,670.1 L773.3,668.9 L774.1,667.6 L774.8,666.4 L775.6,665.1 L776.4,663.8 L777.1,662.5 L777.8,661.2 L778.6,659.9 L779.3,658.6 L780.0,657.3 L780.7,656.0 L781.4,654.7 L782.1,653.4 L782.8,652.0 L783.4,650.7 L784.1,649.4 L784.7,648.0 L785.4,646.7 L786.0,645.3 L786.6,644.0 L787.2,642.6 L787.8,641.3 L788.4,639.9 L789.0,638.5 L789.6,637.2 L790.1,635.8 L790.7,634.4 L791.2,633.0 L791.8,631.6 L792.3,630.2 L792.8,628.8 L793.3,627.4 L793.8,626.0 L794.3,624.6 L794.8,623.2 L795.2,621.8 L795.7,620.4 L796.1,618.9 L796.5,617.5 L797.0,616.1 L797.4,614.6 L797.8,613.2 L798.2,611.8 L798.5,610.3 L798.9,608.9 L799.3,607.4 L799.6,606.0 L800.0,604.5 L800.3,603.1 L800.6,601.6 L800.9,600.2 L801.2,598.7 L801.5,597.2 L801.8,595.5 L802.0,594.5 L802.2,593.6 L802.4,592.6 L802.6,591.6 L802.7,590.6 L802.9,589.6 L803.1,588.6 L803.3,587.7 L803.5,586.7 L803.7,585.7 L803.8,584.7 L804.0,583.7 L804.2,582.7 L804.4,581.8 L804.6,580.8 L804.8,579.8 L804.9,578.8 L805.1,577.8 L805.3,576.8 L805.5,575.9 L805.7,574.9 L805.9,573.9 L806.0,572.9 L806.2,571.9 L806.4,570.9 L806.6,570.0 L806.8,569.0 L807.0,568.0 L807.1,567.0 L807.3,566.0 L807.5,565.0 L807.7,564.1 L807.9,563.1 L808.1,562.1 L808.2,561.1 L808.4,560.1 L808.6,559.1 L808.8,558.2 L809.0,557.2 L809.2,556.2 L809.3,555.2 L809.5,554.2 L809.7,553.2 L809.9,552.3 L810.1,551.3 L810.3,550.3 L810.4,549.3 L810.6,548.3 L810.8,547.4 L811.0,546.4 L811.2,545.4 L811.4,544.4 L811.5,543.4 L811.7,542.4 L811.9,541.5 L812.1,540.5 L812.3,539.5 L812.4,538.5 L812.6,537.5 L812.8,536.5 L813.0,535.6 L813.2,534.6 L813.4,533.6 L813.5,532.6 L813.7,531.6 L813.9,530.6 L814.1,529.7 L814.3,528.7 L814.5,527.7 L814.6,526.7 L814.8,525.7 L815.0,524.7 L815.2,523.8 L815.4,522.8 L815.6,521.8 L815.7,520.8 L815.9,519.8 L816.1,518.8 L816.3,517.9 L816.5,516.9 L816.7,515.9 L816.8,514.9 L817.0,513.9 L817.2,512.9 L817.4,512.0 L817.6,511.0 L817.8,510.0 L817.9,509.0 L818.1,508.0 L818.3,507.0 L818.5,506.1 L818.7,505.1 L818.9,504.1 L819.0,503.1 L819.2,502.1 L819.4,501.1 L819.6,500.2 L819.8,499.2 L820.0,498.2 L820.1,497.2 L820.3,496.2 L820.5,495.2 L820.7,494.3 L820.9,493.3 L821.1,492.3 L821.2,491.3 L821.4,490.3 L821.6,489.3 L821.8,488.4 L822.0,487.4 L822.2,486.4 L822.3,485.4 L822.5,484.4 L822.7,483.5 L822.9,482.5 L823.1,481.5 L823.3,480.5 L823.4,479.5 L823.6,478.5 L823.8,477.5 L824.0,476.6 L824.1,475.6 L824.3,474.6 L824.5,473.6 L824.7,472.6 L824.9,471.6 L825.0,470.7 L825.2,469.7 L825.4,468.7 L825.6,467.7 L825.7,466.7 L825.9,465.7 L826.1,464.8 L826.3,463.8 L826.5,462.8 L826.6,461.8 L826.8,460.8 L827.0,459.8 L827.2,458.9 L827.3,457.9 L827.5,456.9 L827.7,455.9 L827.9,454.9 L828.1,453.9 L828.2,452.9 L828.4,452.0 L828.6,451.0 L828.8,450.0 L828.9,449.0 L829.1,448.0 L829.3,447.0 L829.5,446.1 L829.7,445.1 L829.8,444.1 L830.0,443.1 L830.2,442.1 L830.4,441.1 L830.5,440.2 L830.7,439.2 L830.9,438.2 L831.1,437.2 L831.3,436.2 L831.4,435.2 L831.6,434.2 L831.8,433.3 L832.0,432.3 L832.1,431.3 L832.3,430.3 L832.5,429.3 L832.7,428.3 L832.9,427.4 L833.0,426.4 L833.2,425.4 L833.4,424.4 L833.6,423.4 L833.7,422.4 L833.9,421.5 L834.1,420.5 L834.3,419.5 L834.5,418.5 L834.6,417.5 L834.8,416.5 L835.0,415.6 L835.2,414.6 L835.3,413.6 L835.5,412.6 L835.7,411.6 L835.9,410.6 L836.1,409.6 L836.2,408.7 L836.4,407.7 L836.6,406.7 L836.8,405.7 L836.9,404.7 L837.1,403.7 L837.3,402.8 L837.5,401.8 L837.7,400.8 L837.8,399.8 L838.0,398.8 L838.2,397.8 L838.4,396.9 L838.5,395.9 L838.7,394.9 L838.9,393.9 L839.1,392.9 L839.3,391.9 L839.4,390.9 L839.6,390.0 L839.8,389.0 L840.0,388.0 L840.1,387.0 L840.3,386.0 L840.5,385.0 L840.7,384.1 L840.9,383.1 L841.0,382.1 L841.2,381.1 L841.4,380.1 L841.6,379.1 L841.7,378.2 L841.9,377.2 L842.1,376.2 L842.3,375.2 L842.5,374.2 L842.6,373.2 L842.8,372.3 L843.0,371.3 L843.2,370.3 L843.3,369.3 L843.5,368.3 L843.7,367.3 L843.9,366.3 L844.1,365.4 L844.2,364.4 L844.4,363.4 L844.6,362.4 L844.8,361.4 L844.9,360.4 L845.1,359.5 L845.3,358.5 L845.5,357.5 L845.7,356.5 L845.8,355.5 L846.0,354.5 L846.2,353.6 L846.4,352.6 L846.5,351.6 L846.7,350.6 L846.9,349.6 L847.1,348.6 L847.3,347.6 L847.4,346.7 L847.6,345.7 L847.8,344.7 L848.0,343.7 L848.1,342.7 L848.3,341.7 L848.5,340.8 L848.7,339.8 L848.9,338.8 L849.0,337.8 L849.2,336.8 L849.4,335.8 L849.6,334.9 L849.7,333.9 L849.9,332.9 Z" fill="#2e2e2e" stroke="#000" stroke-width="1.3" stroke-linejoin="round"/>
<polygon points="820.8,236.0 850.8,244.4 839.4,303.2 838.5,344.5 792.5,336.4 792.5,329.0" fill="#fff" stroke="#000" stroke-width="2.5" stroke-linejoin="round" />
<path d="M805.2,311.6 Q820,305 836.4,312.8" fill="none" stroke="#000" stroke-width="2" stroke-linejoin="round" />
<polygon points="850.8,246.8 871.2,249.8 858.0,321.0 838.5,318.5 839.4,303.0" fill="#fff" stroke="#000" stroke-width="2.5" stroke-linejoin="round" />
<line x1="872.4" y1="248.5" x2="857.4" y2="320.5" stroke="#000" stroke-width="4.8" stroke-linecap="round"/>
<line x1="840.0" y1="299.6" x2="859.2" y2="301.4" stroke="#000" stroke-width="2" />
<line x1="853.2" y1="276.6" x2="862.8" y2="277.6" stroke="#000" stroke-width="3.2" stroke-linecap="round"/>
<line x1="852.0" y1="290.2" x2="861.6" y2="291.2" stroke="#000" stroke-width="3.2" stroke-linecap="round"/>
<polygon points="867.3,280.0 872.5,280.8 870.8,292.8 865.6,292.0" fill="#fff" stroke="#000" stroke-width="1.8" stroke-linejoin="round" />
<polygon points="837.5,306.5 842.5,307.3 841.0,320.5 836.0,319.7" fill="#fff" stroke="#000" stroke-width="1.8" stroke-linejoin="round" />
<ellipse cx="848.4" cy="316.4" rx="6.6" ry="6" fill="#fff" stroke="#000" stroke-width="2"/>
<polygon points="839.5,321.5 853.5,323.5 851.5,336.5 838.0,334.5" fill="#333" stroke="#000" stroke-width="1.5" stroke-linejoin="round" />
<polygon points="813.7,217.0 822.8,219.5 801.5,330.0 792.0,328.5" fill="#fff" stroke="#000" stroke-width="2.5" stroke-linejoin="round" />
<polygon points="803.3,218.0 811.2,220.5 793.0,325.0 785.1,324.2" fill="#1a1a1a" stroke="#000" stroke-width="1" stroke-linejoin="round" />
<polygon points="795.6,263.5 799.0,264.2 796.2,281.5 792.8,280.8" fill="#fff" stroke="#000" stroke-width="1.1" stroke-linejoin="round" />
<path d="M781.5,213.5 L803.5,215.8 L785.5,324.5 L760.5,318.5 Q760.5,266 781.5,213.5 Z" fill="#a9a9a9" stroke="#000" stroke-width="2.6" stroke-linejoin="round" />
<path d="M779,220 Q766,266 763.5,317" fill="none" stroke="#000" stroke-width="1.6" stroke-linejoin="round" />
<line x1="776.5" y1="230.4" x2="800.5" y2="237.7" stroke="#000" stroke-width="2.2" />
<line x1="773.0" y1="249.4" x2="798.5" y2="248.1" stroke="#000" stroke-width="2.2" />
<line x1="767.5" y1="283.0" x2="791.0" y2="291.0" stroke="#000" stroke-width="2.2" />
<line x1="762.5" y1="300.5" x2="789.0" y2="302.7" stroke="#000" stroke-width="2.2" />
<polygon points="341.6,709.5 417.0,709.5 406.0,716.0 403.2,729.5 392.0,743.5 390.0,760.0 396.0,775.0 403.2,782.5 403.2,789.0 340.0,789.0 361.2,778.4 361.2,718.2" fill="#fff" stroke="#000" stroke-width="2.5" stroke-linejoin="round" />
<line x1="361.2" y1="743.4" x2="392.0" y2="743.4" stroke="#000" stroke-width="2.2" />
<line x1="361.2" y1="716.0" x2="406.0" y2="716.0" stroke="#000" stroke-width="1.6" />
<path d="M403,730.5 L413,729.7 L424,724.8 L439.4,724.8 L439.4,783 L424,782.5 L413,776 L398,774 Q390,760 391,747 Q394,736 403,730.5 Z" fill="#fff" stroke="#000" stroke-width="2.5" stroke-linejoin="round" />
<line x1="413.0" y1="730.0" x2="413.0" y2="775.0" stroke="#000" stroke-width="2" />
<line x1="424.0" y1="726.0" x2="424.0" y2="781.0" stroke="#000" stroke-width="2" />
<line x1="437.2" y1="726.0" x2="437.2" y2="781.0" stroke="#000" stroke-width="2" />
<rect x="441.6" y="716" width="22.6" height="75.3" rx="2.5" fill="#fff" stroke="#000" stroke-width="2.6"/>
<line x1="446.0" y1="718.0" x2="446.0" y2="789.0" stroke="#000" stroke-width="1.8" />
<path d="M446,723 L457,723 L457,728.6 L446,728.6" fill="none" stroke="#000" stroke-width="2" stroke-linejoin="round" />
<path d="M446,751.7 L457,751.7 L460,754.5 L457,757.2 L446,757.2" fill="none" stroke="#000" stroke-width="2" stroke-linejoin="round" />
<path d="M446,776 L457,776 L457,781.4 L446,781.4" fill="none" stroke="#000" stroke-width="2" stroke-linejoin="round" />
<rect x="378" y="764.1" width="92" height="7.6" fill="#2e2e2e" stroke="#000" stroke-width="1.3"/>
<path d="M341.6,709.8 L361.2,718.2 L361.2,778.4 L340.2,786.1 L326.6,785.7 A39.6,39.6 0 0 1 310.8,709.8 Z" fill="#fff" stroke="#000" stroke-width="2.5" stroke-linejoin="round" />
<rect x="319.2" y="711.2" width="14" height="9.6" rx="2" fill="#fff" stroke="#000" stroke-width="2"/>
<line x1="320.0" y1="716.0" x2="332.4" y2="716.0" stroke="#000" stroke-width="1.4" />
<rect x="319.2" y="775" width="14" height="9.6" rx="2" fill="#fff" stroke="#000" stroke-width="2"/>
<line x1="320.0" y1="779.8" x2="332.4" y2="779.8" stroke="#000" stroke-width="1.4" />
<polygon points="364.0,760.2 380.8,760.2 380.8,774.2 364.0,774.2" fill="#333" stroke="#000" stroke-width="1.6" stroke-linejoin="round" />
<polygon points="362.6,753.0 366.8,753.0 366.8,760.0 362.6,760.0" fill="#fff" stroke="#000" stroke-width="1.4" stroke-linejoin="round" />
<line x1="365.4" y1="781.2" x2="403.2" y2="782.4" stroke="#000" stroke-width="3" />
<path d="M315,680 L415.2,680 Q405,684 401.8,689.7 L327.6,689.7 Q325,684 315,680 Z" fill="#fff" stroke="#000" stroke-width="2.5" stroke-linejoin="round" />
<polygon points="327.6,689.7 401.8,689.7 401.8,698.1 327.6,698.1" fill="#fff" stroke="#000" stroke-width="2.5" stroke-linejoin="round" />
<rect x="303.8" y="698.1" width="122.2" height="10.5" rx="3" fill="#fff" stroke="#000" stroke-width="2.6"/>
<rect x="329.6" y="655.5" width="71.7" height="17.8" fill="#ababab" stroke="#000" stroke-width="2.4"/>
<rect x="331" y="656.9" width="69" height="3.6" fill="#cdcdcd"/>
<line x1="330.0" y1="661.6" x2="401.0" y2="661.6" stroke="#000" stroke-width="1.9" />
<path d="M322,655.5 Q328,656.5 329.6,660 L331,660 L331,655.5 Z" fill="#000" stroke="#000" stroke-width="0.5" stroke-linejoin="round" />
<path d="M409,655.5 Q403,656.5 401.3,660 L400,660 L400,655.5 Z" fill="#000" stroke="#000" stroke-width="0.5" stroke-linejoin="round" />
<path d="M311.5,649.6 Q311.5,647.6 316,647.6 L414,647.6 Q418.7,647.6 418.7,649.8 Q418.3,652.8 411,654.9 Q405,656.6 399,656.6 L331,656.6 Q325,656.6 319,654.9 Q311.8,652.8 311.5,649.6 Z" fill="#000" stroke="#000" stroke-width="0.6" stroke-linejoin="round" />
<path d="M318,651.3 L413,651.3 Q410,653.9 404,653.9 L327,653.9 Q321,653.9 318,651.3 Z" fill="#9c9c9c" stroke="none" stroke-width="0" stroke-linejoin="round" />
<rect x="329" y="788.2" width="74.2" height="23.8" rx="2.5" fill="#fff" stroke="#000" stroke-width="2.6"/>
<line x1="330.0" y1="793.0" x2="402.0" y2="793.0" stroke="#000" stroke-width="2" />
<path d="M337.4,793 L337.4,803 Q339.5,807 341.59999999999997,803 L341.59999999999997,793" fill="none" stroke="#000" stroke-width="2" stroke-linejoin="round" />
<path d="M362.6,793 L362.6,803 Q364.70000000000005,807 366.8,803 L366.8,793" fill="none" stroke="#000" stroke-width="2" stroke-linejoin="round" />
<path d="M390.6,793 L390.6,803 Q392.70000000000005,807 394.8,803 L394.8,793" fill="none" stroke="#000" stroke-width="2" stroke-linejoin="round" />
<path d="M207.2,844.8 Q208,841.5 213,841.5 L243,842.5 Q258,839 272.8,839.3 L337,839.3 L397,842 Q401.6,842.5 401.6,845 L403.9,873.1 L205,873.1 Z" fill="#fff" stroke="#000" stroke-width="2.5" stroke-linejoin="round" />
<polygon points="337.2,811.5 394.7,811.5 394.7,839.8 337.2,839.8" fill="#fff" stroke="#000" stroke-width="2.5" stroke-linejoin="round" />
<polygon points="213.0,832.0 274.4,832.0 276.0,840.5 207.2,842.0" fill="#fff" stroke="#000" stroke-width="2.2" stroke-linejoin="round" />
<rect x="200.2" y="872.4" width="208.6" height="9.4" rx="1.2" fill="#000"/>
<rect x="202.5" y="874.9" width="204" height="1.9" fill="#d0d0d0"/>
<path d="M119.4,760 L242.4,750 Q271.2,750 271.2,773.2 L271.2,805 L215.2,805 L215.2,790 L208.8,789.2 L188,809.2 L121.2,815.8 Z" fill="#fff" stroke="#000" stroke-width="2.5" stroke-linejoin="round" />
<path d="M43.5,761 L109.8,754.4 L115.2,822.8 L49,827.8 Q46.3,828 46,825 L40.8,764 Q40.8,761.3 43.5,761 Z" fill="#fff" stroke="#000" stroke-width="2.5" stroke-linejoin="round" />
<path d="M109.5,753 Q113,749.5 115,753 L120.5,823 Q119,829 115.5,824 Z" fill="#fff" stroke="#000" stroke-width="2.2" stroke-linejoin="round" />
<rect x="205.6" y="804.4" width="75.2" height="23.2" rx="3" fill="#fff" stroke="#000" stroke-width="2.6"/>
<line x1="206.5" y1="809.0" x2="280.0" y2="809.0" stroke="#000" stroke-width="1.6" />
<line x1="206.5" y1="823.6" x2="280.0" y2="823.6" stroke="#000" stroke-width="2" />
<path d="M213.6,809 L213.6,820 Q216.0,824 218.4,820 L218.4,809" fill="none" stroke="#000" stroke-width="2" stroke-linejoin="round" />
<path d="M240.8,809 L240.8,820 Q243.20000000000002,824 245.60000000000002,820 L245.60000000000002,809" fill="none" stroke="#000" stroke-width="2" stroke-linejoin="round" />
<path d="M267.2,809 L267.2,820 Q269.59999999999997,824 272.0,820 L272.0,809" fill="none" stroke="#000" stroke-width="2" stroke-linejoin="round" />
<rect x="209" y="827.8" width="67" height="4.4" fill="#222"/>
<path d="M337.5,486.5 L393,486.5 Q396.8,486.7 396.8,489 Q396.8,491.3 393,491.6 L390,491.8 L390,496.3 L393,496.4 Q396.8,496.8 396.5,499 Q396,501.5 391,501.6 L339.5,501.6 Q334.2,501.5 334,499 Q333.8,496.8 337.5,496.4 L340.5,496.3 L340.5,491.8 L337.5,491.6 Q333.8,491.3 333.8,489 Q333.8,486.7 337.5,486.5 Z" fill="#000" stroke="#000" stroke-width="1" stroke-linejoin="round" />
<rect x="341" y="492.3" width="48.5" height="3.6" fill="#4a4a4a"/>
<line x1="365.0" y1="481.5" x2="365.0" y2="487.0" stroke="#000" stroke-width="1.2" />
<rect x="359.5" y="501" width="11.8" height="37.5" fill="#d0d0d0" stroke="#000" stroke-width="2.6"/>
<line x1="364.0" y1="508.0" x2="367.0" y2="508.0" stroke="#000" stroke-width="2" />
<line x1="364.0" y1="516.0" x2="367.0" y2="516.0" stroke="#000" stroke-width="2" />
<line x1="364.0" y1="524.0" x2="367.0" y2="524.0" stroke="#000" stroke-width="2" />
<line x1="364.0" y1="531.0" x2="367.0" y2="531.0" stroke="#000" stroke-width="2" />
<rect x="358.2" y="537.5" width="14" height="9.5" rx="3" fill="#111"/>
<rect x="360.8" y="547" width="9.6" height="16" fill="#d8d8d8" stroke="#000" stroke-width="2.2"/>
<line x1="363.0" y1="551.0" x2="368.0" y2="559.0" stroke="#000" stroke-width="1.3" />
<line x1="368.0" y1="551.0" x2="363.0" y2="559.0" stroke="#000" stroke-width="1.3" />
<circle cx="362.4" cy="564.6" r="3.2" fill="#fff" stroke="#000" stroke-width="2.2"/>
<circle cx="368.4" cy="564.6" r="3.2" fill="#fff" stroke="#000" stroke-width="2.2"/>
<rect x="355.8" y="577" width="19.4" height="46.8" rx="2.5" fill="#111" stroke="#000" stroke-width="1.5"/>
<rect x="353.7" y="571.9" width="23.1" height="7.5" rx="2" fill="#111"/>
<rect x="357.6" y="580.6" width="15.6" height="2.2" fill="#e4e4e4"/>
<rect x="357.6" y="585.2" width="15.6" height="2.2" fill="#e4e4e4"/>
<rect x="357.6" y="589.8" width="15.6" height="2.2" fill="#e4e4e4"/>
<rect x="357.6" y="594.4" width="15.6" height="2.2" fill="#e4e4e4"/>
<rect x="357.6" y="599.0" width="15.6" height="2.2" fill="#e4e4e4"/>
<rect x="357.6" y="603.6" width="15.6" height="2.2" fill="#e4e4e4"/>
<rect x="357.6" y="608.2" width="15.6" height="2.2" fill="#e4e4e4"/>
<rect x="357.6" y="612.8" width="15.6" height="2.2" fill="#e4e4e4"/>
<rect x="357.6" y="617.4" width="15.6" height="2.2" fill="#e4e4e4"/>
<rect x="356.5" y="574.6" width="17.5" height="1.6" fill="#fff"/>
<line x1="365.4" y1="567.0" x2="365.4" y2="572.0" stroke="#000" stroke-width="1.1" />
<path d="M833,268 L806,420" stroke="#555" stroke-width="1.3" stroke-dasharray="9,3,2,3" fill="none"/>
<line x1="365.2" y1="628.0" x2="365.2" y2="870.0" stroke="#444" stroke-width="1.2" stroke-dasharray="10,3,2,3"/>
<line x1="243.2" y1="768.0" x2="243.2" y2="868.0" stroke="#444" stroke-width="1.2" stroke-dasharray="7,4"/>
<line x1="34.8" y1="795.8" x2="250.0" y2="777.2" stroke="#555" stroke-width="1.3" stroke-dasharray="9,3,2,3"/>
<line x1="738.0" y1="260.0" x2="932.0" y2="300.0" stroke="#555" stroke-width="1.3" stroke-dasharray="9,3,2,3"/>
<line x1="366.5" y1="142.0" x2="787.0" y2="142.0" stroke="#1a1a1a" stroke-width="1.3" />
<polygon points="366.5,142.0 378.7,137.8 378.7,146.2" fill="#000"/>
<polygon points="787.0,142.0 774.8,146.2 774.8,137.8" fill="#000"/>
<line x1="366.5" y1="136.0" x2="366.5" y2="385.0" stroke="#1a1a1a" stroke-width="1.3" />
<line x1="787.5" y1="136.0" x2="787.5" y2="161.0" stroke="#1a1a1a" stroke-width="1.3" />
<line x1="787.5" y1="202.0" x2="787.5" y2="271.0" stroke="#1a1a1a" stroke-width="1.3" />
<line x1="185.0" y1="272.0" x2="651.0" y2="272.0" stroke="#1a1a1a" stroke-width="1.3" />
<line x1="714.0" y1="272.0" x2="788.0" y2="272.0" stroke="#1a1a1a" stroke-width="1.3" />
<line x1="186.5" y1="272.0" x2="186.5" y2="880.0" stroke="#1a1a1a" stroke-width="1.3" />
<polygon points="186.5,272.0 190.7,284.2 182.3,284.2" fill="#000"/>
<polygon points="186.5,697.0 182.3,684.8 190.7,684.8" fill="#000"/>
<polygon points="186.5,699.5 190.7,711.7 182.3,711.7" fill="#000"/>
<polygon points="186.5,880.0 182.3,867.8 190.7,867.8" fill="#000"/>
<line x1="180.0" y1="698.0" x2="305.0" y2="698.0" stroke="#1a1a1a" stroke-width="1.3" />
<line x1="180.0" y1="880.0" x2="202.0" y2="880.0" stroke="#1a1a1a" stroke-width="1.3" />
<line x1="314.0" y1="469.0" x2="415.0" y2="469.0" stroke="#1a1a1a" stroke-width="1.3" />
<polygon points="333.0,469.0 320.8,473.2 320.8,464.8" fill="#000"/>
<polygon points="395.0,469.0 407.2,464.8 407.2,473.2" fill="#000"/>
<line x1="333.0" y1="466.0" x2="333.0" y2="484.0" stroke="#1a1a1a" stroke-width="1.3" />
<line x1="395.0" y1="466.0" x2="395.0" y2="484.0" stroke="#1a1a1a" stroke-width="1.3" />
<line x1="289.0" y1="626.4" x2="511.0" y2="626.4" stroke="#1a1a1a" stroke-width="1.3" />
<polygon points="312.0,626.4 299.8,630.6 299.8,622.2" fill="#000"/>
<polygon points="418.0,626.4 430.2,622.2 430.2,630.6" fill="#000"/>
<line x1="312.0" y1="621.0" x2="312.0" y2="644.0" stroke="#1a1a1a" stroke-width="1.3" />
<line x1="418.0" y1="621.0" x2="418.0" y2="644.0" stroke="#1a1a1a" stroke-width="1.3" />
<line x1="715.6" y1="175.0" x2="685.0" y2="318.0" stroke="#1a1a1a" stroke-width="1.3" />
<polygon points="711.0,194.0 709.4,181.2 717.6,182.9" fill="#000"/>
<polygon points="686.5,305.5 688.1,318.3 679.9,316.6" fill="#000"/>
<line x1="711.0" y1="194.0" x2="794.0" y2="211.0" stroke="#1a1a1a" stroke-width="1.3" />
<line x1="683.0" y1="305.0" x2="753.0" y2="319.0" stroke="#1a1a1a" stroke-width="1.3" />
<line x1="759.0" y1="189.0" x2="828.0" y2="205.0" stroke="#1a1a1a" stroke-width="1.3" />
<polygon points="778.0,192.5 765.2,193.9 767.0,185.7" fill="#000"/>
<polygon points="810.0,200.0 822.8,198.6 821.0,206.8" fill="#000"/>
<line x1="779.0" y1="191.0" x2="776.0" y2="215.0" stroke="#1a1a1a" stroke-width="1.3" />
<line x1="811.0" y1="198.0" x2="808.0" y2="216.0" stroke="#1a1a1a" stroke-width="1.3" />
<line x1="243.0" y1="853.4" x2="366.0" y2="853.4" stroke="#1a1a1a" stroke-width="1.3" />
<polygon points="243.0,853.4 255.2,849.2 255.2,857.6" fill="#000"/>
<polygon points="366.0,853.4 353.8,857.6 353.8,849.2" fill="#000"/>
<polygon points="366.0,853.4 378.2,849.2 378.2,857.6" fill="#000"/>
<line x1="375.0" y1="853.4" x2="592.0" y2="853.5" stroke="#1a1a1a" stroke-width="1.3" />
<path d="M919.0,298.0 L918.8,299.0 L918.7,300.0 L918.5,301.0 L918.3,301.9 L918.2,302.9 L918.0,303.9 L917.8,304.9 L917.7,305.9 L917.5,306.9 L917.3,307.9 L917.2,308.8 L917.0,309.8 L916.8,310.8 L916.7,311.8 L916.5,312.8 L916.3,313.8 L916.1,314.8 L916.0,315.7 L915.8,316.7 L915.6,317.7 L915.5,318.7 L915.3,319.7 L915.1,320.7 L915.0,321.7 L914.8,322.6 L914.6,323.6 L914.5,324.6 L914.3,325.6 L914.1,326.6 L914.0,327.6 L913.8,328.6 L913.6,329.5 L913.5,330.5 L913.3,331.5 L913.1,332.5 L913.0,333.5 L912.8,334.5 L912.6,335.5 L912.5,336.4 L912.3,337.4 L912.1,338.4 L912.0,339.4 L911.8,340.4 L911.6,341.4 L911.4,342.4 L911.3,343.3 L911.1,344.3 L910.9,345.3 L910.8,346.3 L910.6,347.3 L910.4,348.3 L910.3,349.3 L910.1,350.2 L909.9,351.2 L909.8,352.2 L909.6,353.2 L909.4,354.2 L909.3,355.2 L909.1,356.2 L908.9,357.1 L908.8,358.1 L908.6,359.1 L908.4,360.1 L908.3,361.1 L908.1,362.1 L907.9,363.1 L907.8,364.0 L907.6,365.0 L907.4,366.0 L907.3,367.0 L907.1,368.0 L906.9,369.0 L906.7,370.0 L906.6,371.0 L906.4,371.9 L906.2,372.9 L906.1,373.9 L905.9,374.9 L905.7,375.9 L905.6,376.9 L905.4,377.9 L905.2,378.8 L905.1,379.8 L904.9,380.8 L904.7,381.8 L904.6,382.8 L904.4,383.8 L904.2,384.8 L904.1,385.7 L903.9,386.7 L903.7,387.7 L903.6,388.7 L903.4,389.7 L903.2,390.7 L903.1,391.7 L902.9,392.6 L902.7,393.6 L902.6,394.6 L902.4,395.6 L902.2,396.6 L902.1,397.6 L901.9,398.6 L901.7,399.5 L901.6,400.5 L901.4,401.5 L901.2,402.5 L901.0,403.5 L900.9,404.5 L900.7,405.5 L900.5,406.4 L900.4,407.4 L900.2,408.4 L900.0,409.4 L899.9,410.4 L899.7,411.4 L899.5,412.4 L899.4,413.3 L899.2,414.3 L899.0,415.3 L898.9,416.3 L898.7,417.3 L898.5,418.3 L898.4,419.3 L898.2,420.2 L898.0,421.2 L897.9,422.2 L897.7,423.2 L897.5,424.2 L897.4,425.2 L897.2,426.2 L897.0,427.1 L896.9,428.1 L896.7,429.1 L896.5,430.1 L896.4,431.1 L896.2,432.1 L896.0,433.1 L895.9,434.0 L895.7,435.0 L895.5,436.0 L895.4,437.0 L895.2,438.0 L895.0,439.0 L894.8,440.0 L894.7,440.9 L894.5,441.9 L894.3,442.9 L894.2,443.9 L894.0,444.9 L893.8,445.9 L893.7,446.9 L893.5,447.8 L893.3,448.8 L893.2,449.8 L893.0,450.8 L892.8,451.8 L892.7,452.8 L892.5,453.8 L892.3,454.7 L892.2,455.7 L892.0,456.7 L891.8,457.7 L891.7,458.7 L891.5,459.7 L891.3,460.7 L891.2,461.7 L891.0,462.6 L890.8,463.6 L890.7,464.6 L890.5,465.6 L890.3,466.6 L890.2,467.6 L890.0,468.6 L889.8,469.5 L889.7,470.5 L889.5,471.5 L889.3,472.5 L889.2,473.5 L889.0,474.5 L888.8,475.5 L888.7,476.4 L888.5,477.4 L888.3,478.4 L888.2,479.4 L888.0,480.4 L887.8,481.4 L887.7,482.4 L887.5,483.3 L887.3,484.3 L887.2,485.3 L887.0,486.3 L886.8,487.3 L886.7,488.3 L886.5,489.3 L886.3,490.2 L886.2,491.2 L886.0,492.2 L885.8,493.2 L885.7,494.2 L885.5,495.2 L885.3,496.2 L885.2,497.1 L885.0,498.1 L884.8,499.1 L884.7,500.1 L884.5,501.1 L884.3,502.1 L884.1,503.1 L884.0,504.0 L883.8,505.0 L883.6,506.0 L883.5,507.0 L883.3,508.0 L883.1,509.0 L883.0,510.0 L882.8,510.9 L882.6,511.9 L882.5,512.9 L882.3,513.9 L882.1,514.9 L882.0,515.9 L881.8,516.9 L881.6,517.8 L881.5,518.8 L881.3,519.8 L881.1,520.8 L881.0,521.8 L880.8,522.8 L880.6,523.8 L880.5,524.8 L880.3,525.7 L880.1,526.7 L880.0,527.7 L879.8,528.7 L879.6,529.7 L879.5,530.7 L879.3,531.7 L879.1,532.6 L879.0,533.6 L878.8,534.6 L878.6,535.6 L878.5,536.6 L878.3,537.6 L878.1,538.6 L878.0,539.5 L877.8,540.5 L877.6,541.5 L877.5,542.5 L877.3,543.5 L877.1,544.5 L877.0,545.5 L876.8,546.4 L876.6,547.4 L876.5,548.4 L876.3,549.4 L876.1,550.4 L876.0,551.4 L875.8,552.4 L875.6,553.3 L875.5,554.3 L875.3,555.3 L875.1,556.3 L875.0,557.3 L874.8,558.3 L874.6,559.3 L874.5,560.2 L874.3,561.2 L874.1,562.2 L874.0,563.2 L873.8,564.2 L873.6,565.2 L873.5,566.2 L873.3,567.1 L873.1,568.1 L873.0,569.1 L872.8,570.1 L872.6,571.1 L872.4,572.1 L872.3,573.1 L872.1,574.0 L871.9,575.0 L871.8,576.0 L871.6,577.0 L871.4,578.0 L871.3,579.0 L871.1,580.0 L870.9,580.9 L870.8,581.9 L870.6,582.9 L870.4,583.9 L870.3,584.9 L870.1,585.9 L869.9,586.9 L869.8,587.8 L869.6,588.8 L869.4,589.8 L869.3,590.8 L869.1,591.8 L868.9,592.8 L868.7,593.8 L868.6,594.7 L868.4,595.7 L868.2,596.7 L868.1,597.7 L867.9,598.7 L867.7,599.7 L867.6,600.7 L867.4,601.6 L867.2,602.6 L867.1,603.6 L866.9,604.6 L866.8,605.6 L866.6,606.6 L866.4,607.6 L866.3,608.6 L866.1,609.5 L865.9,610.5 L865.8,611.5 L865.6,612.5 L865.4,613.5 L865.3,614.5 L865.1,615.5 L865.0,616.4 L864.8,617.4 L864.6,618.4 L864.5,619.4 L864.3,620.4 L864.2,621.4 L864.0,622.4 L863.8,623.4 L863.7,624.3 L863.5,625.3 L863.4,626.3 L863.2,627.3 L863.1,628.3 L862.9,629.3 L862.7,630.3 L862.6,631.3 L862.4,632.2 L862.3,633.2 L862.1,634.2 L861.9,635.2 L861.8,636.2 L861.6,637.2 L861.4,638.2 L861.3,639.2 L861.1,640.1 L860.9,641.1 L860.8,642.1 L860.6,643.1 L860.4,644.1 L860.3,645.1 L860.1,646.1 L859.9,647.0 L859.8,648.0 L859.6,649.0 L859.4,650.0 L859.3,651.0 L859.1,652.0 L859.0,653.0 L858.8,653.9 L858.6,654.9 L858.5,655.9 L858.3,656.9 L858.1,657.9 L858.0,658.9 L857.8,659.9 L857.6,660.8 L857.4,661.8 L857.2,662.8 L857.1,663.8 L856.9,664.8 L856.6,665.7 L856.4,666.7 L856.2,667.7 L856.0,668.7 L855.8,669.7 L855.5,670.6 L855.3,671.6 L855.1,672.6 L854.8,673.5 L854.5,674.5 L854.3,675.5 L854.0,676.4 L853.7,677.4 L853.4,678.3 L853.1,679.3 L852.9,680.3 L852.6,681.2 L852.3,682.2 L852.0,683.1 L851.6,684.1 L851.3,685.0 L851.0,686.0 L850.7,686.9 L850.4,687.9 L850.1,688.8 L849.8,689.8 L849.4,690.7 L849.1,691.7 L848.8,692.6 L848.5,693.5 L848.1,694.5 L847.8,695.4 L847.5,696.4 L847.1,697.3 L846.8,698.3 L846.5,699.2 L846.2,700.2 L845.8,701.1 L845.5,702.1 L845.2,703.0 L844.9,703.9 L844.5,704.9 L844.2,705.8 L843.8,706.8 L843.5,707.7 L843.2,708.6 L842.8,709.6 L842.5,710.5 L842.1,711.5 L841.8,712.4 L841.4,713.3 L841.0,714.3 L840.7,715.2 L840.3,716.1 L840.0,717.1 L839.6,718.0 L839.2,718.9 L838.9,719.8 L838.5,720.8 L838.1,721.7 L837.7,722.6 L837.4,723.6 L837.0,724.5 L836.6,725.4 L836.2,726.3 L835.8,727.3 L835.5,728.2 L835.1,729.1 L834.7,730.0 L834.3,730.9 L833.9,731.9 L833.5,732.8 L833.1,733.7 L832.6,734.6 L832.2,735.5 L831.8,736.4 L831.4,737.3 L830.9,738.2 L830.5,739.1 L830.0,740.0 L829.6,740.9 L829.1,741.8 L828.6,742.6 L828.2,743.5 L827.7,744.4 L827.2,745.3 L826.8,746.2 L826.3,747.0 L825.8,747.9 L825.3,748.8 L824.8,749.6 L824.3,750.5 L823.7,751.4 L823.2,752.2 L822.7,753.0 L822.1,753.9 L821.6,754.7 L821.0,755.5 L820.4,756.4 L819.9,757.2 L819.3,758.0 L818.7,758.8 L818.1,759.6 L817.5,760.5 L817.0,761.3 L816.4,762.1 L815.8,762.9 L815.2,763.7 L814.6,764.5 L814.0,765.3 L813.4,766.1 L812.8,766.9 L812.2,767.7 L811.6,768.5 L811.0,769.3 L810.3,770.1 L809.7,770.8 L809.1,771.6 L808.5,772.4 L807.9,773.2 L807.2,773.9 L806.6,774.7 L805.9,775.5 L805.3,776.2 L804.6,777.0 L804.0,777.8 L803.3,778.5 L802.7,779.3 L802.0,780.0 L801.3,780.7 L800.6,781.5 L800.0,782.2 L799.3,782.9 L798.6,783.7 L797.9,784.4 L797.2,785.1 L796.5,785.8 L795.8,786.5 L795.1,787.2 L794.3,787.9 L793.6,788.6 L792.9,789.3 L792.2,790.0 L791.5,790.7 L790.7,791.4 L790.0,792.1 L789.3,792.7 L788.5,793.4 L787.8,794.1 L787.1,794.8 L786.3,795.4 L785.6,796.1 L784.8,796.8 L784.1,797.4 L783.3,798.1 L782.6,798.8 L781.8,799.4 L781.1,800.1 L780.3,800.7 L779.6,801.4 L778.8,802.0 L778.0,802.7 L777.3,803.3 L776.5,804.0 L775.7,804.6 L775.0,805.2 L774.2,805.9 L773.4,806.5 L772.6,807.1 L771.9,807.8 L771.1,808.4 L770.3,809.0 L769.5,809.6 L768.7,810.2 L767.9,810.8 L767.1,811.3 L766.2,811.9 L765.4,812.5 L764.6,813.0 L763.8,813.6 L762.9,814.2 L762.1,814.7 L761.2,815.2 L760.4,815.8 L759.5,816.3 L758.7,816.8 L757.8,817.3 L757.0,817.8 L756.1,818.3 L755.2,818.8 L754.4,819.3 L753.5,819.8 L752.6,820.3 L751.7,820.8 L750.9,821.2 L750.0,821.7 L749.1,822.2 L748.2,822.7 L747.3,823.1 L746.4,823.6 L745.5,824.0 L744.6,824.5 L743.8,824.9 L742.9,825.4 L742.0,825.8 L741.1,826.3 L740.2,826.7 L739.3,827.2 L738.4,827.6 L737.5,828.0 L736.6,828.5 L735.7,828.9 L734.8,829.3 L733.9,829.7 L733.0,830.2 L732.0,830.6 L731.1,831.0 L730.2,831.4 L729.3,831.8 L728.4,832.2 L727.5,832.6 L726.6,833.0 L725.7,833.4 L724.7,833.8 L723.8,834.2 L722.9,834.6 L722.0,835.0 L721.1,835.4 L720.1,835.8 L719.2,836.2 L718.3,836.6 L717.4,836.9 L716.4,837.3 L715.5,837.7 L714.6,838.0 L713.6,838.4 L712.7,838.7 L711.8,839.1 L710.8,839.4 L709.9,839.8 L708.9,840.1 L708.0,840.4 L707.1,840.8 L706.1,841.1 L705.2,841.4 L704.2,841.7 L703.3,842.0 L702.3,842.3 L701.4,842.6 L700.4,842.9 L699.4,843.2 L698.5,843.5 L697.5,843.8 L696.6,844.1 L695.6,844.3 L694.6,844.6 L693.7,844.8 L692.7,845.1 L691.7,845.3 L690.8,845.6 L689.8,845.8 L688.8,846.1 L687.8,846.3 L686.9,846.5 L685.9,846.8 L684.9,847.0 L683.9,847.2 L683.0,847.4 L682.0,847.6 L681.0,847.8 L680.0,848.0 L679.0,848.2 L678.1,848.4 L677.1,848.6 L676.1,848.8 L675.1,849.0 L674.1,849.1 L673.2,849.3 L672.2,849.5 L671.2,849.6 L670.2,849.8 L669.2,849.9 L668.2,850.1 L667.2,850.2 L666.2,850.4 L665.2,850.5 L664.2,850.6 L663.3,850.8 L662.3,850.9 L661.3,851.0 L660.3,851.1 L659.3,851.2 L658.3,851.3 L657.3,851.4 L656.3,851.5 L655.3,851.6 L654.3,851.7 L653.3,851.8 L652.3,851.9 L651.3,852.0 L650.3,852.1 L649.3,852.2 L648.3,852.3 L647.3,852.4 L646.3,852.4 L645.3,852.5 L644.3,852.6 L643.3,852.7 L642.4,852.7 L641.4,852.8 L640.4,852.9 L639.4,852.9 L638.4,853.0 L637.4,853.0 L636.4,853.1 L635.4,853.1 L634.4,853.2 L633.4,853.2 L632.4,853.2 L631.4,853.3 L630.4,853.3 L629.4,853.3 L628.4,853.4 L627.4,853.4 L626.4,853.4 L625.4,853.5 L624.4,853.5 L623.4,853.5 L622.4,853.5 L621.4,853.6 L620.4,853.6 L619.4,853.6 L618.4,853.6 L617.4,853.6 L616.4,853.7 L615.4,853.7 L614.4,853.7 L613.4,853.7 L612.4,853.7 L611.4,853.7 L610.4,853.7 L609.4,853.7 L608.4,853.7 L607.4,853.7 L606.4,853.7 L605.4,853.7 L604.4,853.7 L603.4,853.7 L602.4,853.7 L601.4,853.7 L600.4,853.7 L599.4,853.7 L598.4,853.7 L597.4,853.6 L596.4,853.6 L595.4,853.6 L594.4,853.6 L593.4,853.6 L592.4,853.6 L591.4,853.6 L590.4,853.6" fill="none" stroke="#1a1a1a" stroke-width="1.3"/>
<polygon points="919.0,298.0 921.3,310.7 913.0,309.4" fill="#000"/>
<line x1="59.2" y1="665.0" x2="81.6" y2="864.0" stroke="#1a1a1a" stroke-width="1.3" />
<polygon points="69.0,758.0 63.4,746.4 71.8,745.4" fill="#000"/>
<polygon points="77.4,828.8 83.0,840.4 74.6,841.4" fill="#000"/>
<line x1="120.8" y1="658.0" x2="143.2" y2="855.6" stroke="#1a1a1a" stroke-width="1.3" />
<polygon points="132.6,758.0 127.0,746.4 135.4,745.4" fill="#000"/>
<polygon points="139.2,815.6 144.8,827.2 136.4,828.2" fill="#000"/>
<text x="605" y="137" font-size="50" font-weight="bold" text-anchor="middle" fill="#000" >H2</text>
<text x="180" y="464.2" font-size="50" font-weight="bold" text-anchor="middle" fill="#000" transform="rotate(-90 180 464.2)" textLength="55.6" lengthAdjust="spacingAndGlyphs" >H1</text>
<text x="795" y="194" font-size="38" font-weight="normal" text-anchor="middle" fill="#000" textLength="36.9" lengthAdjust="spacingAndGlyphs" >23</text>
<text x="695.7" y="244.7" font-size="32.5" font-weight="normal" text-anchor="middle" fill="#000" transform="rotate(-76 695.7 244.7)" >Ø78</text>
<text x="369.5" y="463.5" font-size="32" font-weight="normal" text-anchor="middle" fill="#000" >Ø45</text>
<text x="483" y="620.5" font-size="32" font-weight="normal" text-anchor="middle" fill="#000" >Ø70</text>
<text x="55.5" y="693.4" font-size="33" font-weight="normal" text-anchor="middle" fill="#000" transform="rotate(-90 55.5 693.4)" >Ø50</text>
<text x="117.8" y="694.2" font-size="33" font-weight="normal" text-anchor="middle" fill="#000" transform="rotate(-90 117.8 694.2)" >Ø40</text>
<text x="178.6" y="727" font-size="33" font-weight="normal" text-anchor="middle" fill="#000" transform="rotate(-90 178.6 727)" >120</text>
<text x="307.5" y="836" font-size="33" font-weight="normal" text-anchor="middle" fill="#000" >90</text>
<text x="724" y="819.8" font-size="49" font-weight="bold" text-anchor="start" fill="#000" transform="rotate(-25 724 819.8)" >L</text>
</svg></body></html>
